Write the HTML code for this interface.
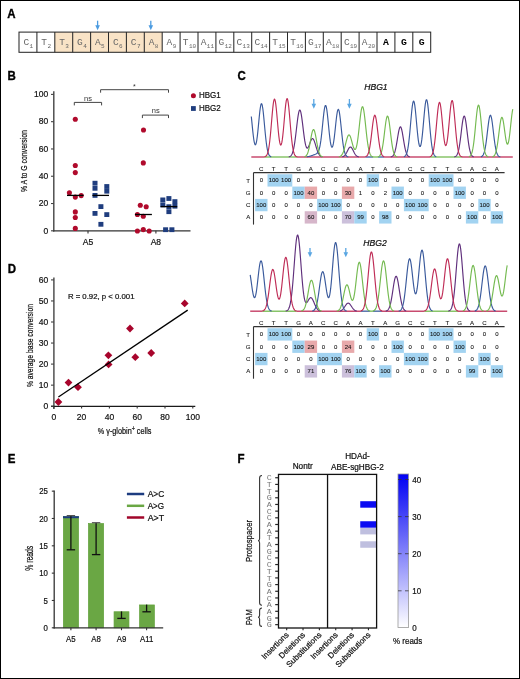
<!DOCTYPE html>
<html><head><meta charset="utf-8"><style>
html,body{margin:0;padding:0;background:#fff;overflow:hidden;}
svg{display:block;will-change:transform;}
text[fill="#111"]{stroke:#111;stroke-width:0.22px;}
text[fill="#121212"]{stroke:#121212;stroke-width:0.08px;}
</style></head><body>
<svg width="520" height="679" viewBox="0 0 520 679">
<rect x="0" y="0" width="520" height="679" fill="#fff"/>
<rect x="0.5" y="0.5" width="519" height="678" fill="none" stroke="#000" stroke-width="1" />
<text transform="translate(7.2,17.7) scale(0.9,1)" font-size="12.8" text-anchor="start" fill="#000" font-weight="bold" font-family='"Liberation Sans", sans-serif' stroke="#000" stroke-width="0.35">A</text>
<text transform="translate(7.6,80.2) scale(0.9,1)" font-size="12.8" text-anchor="start" fill="#000" font-weight="bold" font-family='"Liberation Sans", sans-serif' stroke="#000" stroke-width="0.35">B</text>
<text transform="translate(237.5,80) scale(0.9,1)" font-size="12.8" text-anchor="start" fill="#000" font-weight="bold" font-family='"Liberation Sans", sans-serif' stroke="#000" stroke-width="0.35">C</text>
<text transform="translate(7.8,273) scale(0.9,1)" font-size="12.8" text-anchor="start" fill="#000" font-weight="bold" font-family='"Liberation Sans", sans-serif' stroke="#000" stroke-width="0.35">D</text>
<text transform="translate(7.8,463.2) scale(0.9,1)" font-size="12.8" text-anchor="start" fill="#000" font-weight="bold" font-family='"Liberation Sans", sans-serif' stroke="#000" stroke-width="0.35">E</text>
<text transform="translate(237.6,462.9) scale(0.9,1)" font-size="12.8" text-anchor="start" fill="#000" font-weight="bold" font-family='"Liberation Sans", sans-serif' stroke="#000" stroke-width="0.35">F</text>
<rect x="19" y="32.1" width="17.9" height="20.2" fill="#ffffff" stroke="none" stroke-width="1" />
<rect x="36.9" y="32.1" width="17.9" height="20.2" fill="#ffffff" stroke="none" stroke-width="1" />
<rect x="54.8" y="32.1" width="17.9" height="20.2" fill="#f9e3c6" stroke="none" stroke-width="1" />
<rect x="72.7" y="32.1" width="17.9" height="20.2" fill="#f9e3c6" stroke="none" stroke-width="1" />
<rect x="90.6" y="32.1" width="17.9" height="20.2" fill="#f9e3c6" stroke="none" stroke-width="1" />
<rect x="108.5" y="32.1" width="17.9" height="20.2" fill="#f9e3c6" stroke="none" stroke-width="1" />
<rect x="126.4" y="32.1" width="17.9" height="20.2" fill="#f9e3c6" stroke="none" stroke-width="1" />
<rect x="144.3" y="32.1" width="17.9" height="20.2" fill="#f9e3c6" stroke="none" stroke-width="1" />
<rect x="162.2" y="32.1" width="17.9" height="20.2" fill="#ffffff" stroke="none" stroke-width="1" />
<rect x="180.1" y="32.1" width="17.9" height="20.2" fill="#ffffff" stroke="none" stroke-width="1" />
<rect x="198" y="32.1" width="17.9" height="20.2" fill="#ffffff" stroke="none" stroke-width="1" />
<rect x="215.9" y="32.1" width="17.9" height="20.2" fill="#ffffff" stroke="none" stroke-width="1" />
<rect x="233.8" y="32.1" width="17.9" height="20.2" fill="#ffffff" stroke="none" stroke-width="1" />
<rect x="251.7" y="32.1" width="17.9" height="20.2" fill="#ffffff" stroke="none" stroke-width="1" />
<rect x="269.6" y="32.1" width="17.9" height="20.2" fill="#ffffff" stroke="none" stroke-width="1" />
<rect x="287.5" y="32.1" width="17.9" height="20.2" fill="#ffffff" stroke="none" stroke-width="1" />
<rect x="305.4" y="32.1" width="17.9" height="20.2" fill="#ffffff" stroke="none" stroke-width="1" />
<rect x="323.3" y="32.1" width="17.9" height="20.2" fill="#ffffff" stroke="none" stroke-width="1" />
<rect x="341.2" y="32.1" width="17.9" height="20.2" fill="#ffffff" stroke="none" stroke-width="1" />
<rect x="359.1" y="32.1" width="17.9" height="20.2" fill="#ffffff" stroke="none" stroke-width="1" />
<rect x="377" y="32.1" width="17.9" height="20.2" fill="#ffffff" stroke="none" stroke-width="1" />
<rect x="394.9" y="32.1" width="17.9" height="20.2" fill="#ffffff" stroke="none" stroke-width="1" />
<rect x="412.8" y="32.1" width="17.9" height="20.2" fill="#ffffff" stroke="none" stroke-width="1" />
<text x="23.4" y="44.9" font-size="9.5" text-anchor="start" fill="#666" font-weight="normal" font-style="normal" font-family='"Liberation Mono", monospace' >C</text>
<text x="29.5" y="47.7" font-size="6.0" text-anchor="start" fill="#666" font-weight="normal" font-style="normal" font-family='"Liberation Mono", monospace' >1</text>
<text x="41.3" y="44.9" font-size="9.5" text-anchor="start" fill="#666" font-weight="normal" font-style="normal" font-family='"Liberation Mono", monospace' >T</text>
<text x="47.4" y="47.7" font-size="6.0" text-anchor="start" fill="#666" font-weight="normal" font-style="normal" font-family='"Liberation Mono", monospace' >2</text>
<text x="59.2" y="44.9" font-size="9.5" text-anchor="start" fill="#666" font-weight="normal" font-style="normal" font-family='"Liberation Mono", monospace' >T</text>
<text x="65.3" y="47.7" font-size="6.0" text-anchor="start" fill="#666" font-weight="normal" font-style="normal" font-family='"Liberation Mono", monospace' >3</text>
<text x="77.1" y="44.9" font-size="9.5" text-anchor="start" fill="#666" font-weight="normal" font-style="normal" font-family='"Liberation Mono", monospace' >G</text>
<text x="83.2" y="47.7" font-size="6.0" text-anchor="start" fill="#666" font-weight="normal" font-style="normal" font-family='"Liberation Mono", monospace' >4</text>
<text x="95" y="44.9" font-size="9.5" text-anchor="start" fill="#666" font-weight="normal" font-style="normal" font-family='"Liberation Mono", monospace' >A</text>
<text x="101.1" y="47.7" font-size="6.0" text-anchor="start" fill="#666" font-weight="normal" font-style="normal" font-family='"Liberation Mono", monospace' >5</text>
<text x="112.9" y="44.9" font-size="9.5" text-anchor="start" fill="#666" font-weight="normal" font-style="normal" font-family='"Liberation Mono", monospace' >C</text>
<text x="119" y="47.7" font-size="6.0" text-anchor="start" fill="#666" font-weight="normal" font-style="normal" font-family='"Liberation Mono", monospace' >6</text>
<text x="130.8" y="44.9" font-size="9.5" text-anchor="start" fill="#666" font-weight="normal" font-style="normal" font-family='"Liberation Mono", monospace' >C</text>
<text x="136.9" y="47.7" font-size="6.0" text-anchor="start" fill="#666" font-weight="normal" font-style="normal" font-family='"Liberation Mono", monospace' >7</text>
<text x="148.7" y="44.9" font-size="9.5" text-anchor="start" fill="#666" font-weight="normal" font-style="normal" font-family='"Liberation Mono", monospace' >A</text>
<text x="154.8" y="47.7" font-size="6.0" text-anchor="start" fill="#666" font-weight="normal" font-style="normal" font-family='"Liberation Mono", monospace' >8</text>
<text x="166.6" y="44.9" font-size="9.5" text-anchor="start" fill="#666" font-weight="normal" font-style="normal" font-family='"Liberation Mono", monospace' >A</text>
<text x="172.7" y="47.7" font-size="6.0" text-anchor="start" fill="#666" font-weight="normal" font-style="normal" font-family='"Liberation Mono", monospace' >9</text>
<text x="182.8" y="44.9" font-size="9.5" text-anchor="start" fill="#666" font-weight="normal" font-style="normal" font-family='"Liberation Mono", monospace' >T</text>
<text x="188.9" y="47.7" font-size="6.0" text-anchor="start" fill="#666" font-weight="normal" font-style="normal" font-family='"Liberation Mono", monospace' >10</text>
<text x="200.7" y="44.9" font-size="9.5" text-anchor="start" fill="#666" font-weight="normal" font-style="normal" font-family='"Liberation Mono", monospace' >A</text>
<text x="206.8" y="47.7" font-size="6.0" text-anchor="start" fill="#666" font-weight="normal" font-style="normal" font-family='"Liberation Mono", monospace' >11</text>
<text x="218.6" y="44.9" font-size="9.5" text-anchor="start" fill="#666" font-weight="normal" font-style="normal" font-family='"Liberation Mono", monospace' >G</text>
<text x="224.7" y="47.7" font-size="6.0" text-anchor="start" fill="#666" font-weight="normal" font-style="normal" font-family='"Liberation Mono", monospace' >12</text>
<text x="236.5" y="44.9" font-size="9.5" text-anchor="start" fill="#666" font-weight="normal" font-style="normal" font-family='"Liberation Mono", monospace' >C</text>
<text x="242.6" y="47.7" font-size="6.0" text-anchor="start" fill="#666" font-weight="normal" font-style="normal" font-family='"Liberation Mono", monospace' >13</text>
<text x="254.4" y="44.9" font-size="9.5" text-anchor="start" fill="#666" font-weight="normal" font-style="normal" font-family='"Liberation Mono", monospace' >C</text>
<text x="260.5" y="47.7" font-size="6.0" text-anchor="start" fill="#666" font-weight="normal" font-style="normal" font-family='"Liberation Mono", monospace' >14</text>
<text x="272.3" y="44.9" font-size="9.5" text-anchor="start" fill="#666" font-weight="normal" font-style="normal" font-family='"Liberation Mono", monospace' >T</text>
<text x="278.4" y="47.7" font-size="6.0" text-anchor="start" fill="#666" font-weight="normal" font-style="normal" font-family='"Liberation Mono", monospace' >15</text>
<text x="290.2" y="44.9" font-size="9.5" text-anchor="start" fill="#666" font-weight="normal" font-style="normal" font-family='"Liberation Mono", monospace' >T</text>
<text x="296.3" y="47.7" font-size="6.0" text-anchor="start" fill="#666" font-weight="normal" font-style="normal" font-family='"Liberation Mono", monospace' >16</text>
<text x="308.1" y="44.9" font-size="9.5" text-anchor="start" fill="#666" font-weight="normal" font-style="normal" font-family='"Liberation Mono", monospace' >G</text>
<text x="314.2" y="47.7" font-size="6.0" text-anchor="start" fill="#666" font-weight="normal" font-style="normal" font-family='"Liberation Mono", monospace' >17</text>
<text x="326" y="44.9" font-size="9.5" text-anchor="start" fill="#666" font-weight="normal" font-style="normal" font-family='"Liberation Mono", monospace' >A</text>
<text x="332.1" y="47.7" font-size="6.0" text-anchor="start" fill="#666" font-weight="normal" font-style="normal" font-family='"Liberation Mono", monospace' >18</text>
<text x="343.9" y="44.9" font-size="9.5" text-anchor="start" fill="#666" font-weight="normal" font-style="normal" font-family='"Liberation Mono", monospace' >C</text>
<text x="350" y="47.7" font-size="6.0" text-anchor="start" fill="#666" font-weight="normal" font-style="normal" font-family='"Liberation Mono", monospace' >19</text>
<text x="361.8" y="44.9" font-size="9.5" text-anchor="start" fill="#666" font-weight="normal" font-style="normal" font-family='"Liberation Mono", monospace' >A</text>
<text x="367.9" y="47.7" font-size="6.0" text-anchor="start" fill="#666" font-weight="normal" font-style="normal" font-family='"Liberation Mono", monospace' >20</text>
<text x="385.95" y="45" font-size="9.8" text-anchor="middle" fill="#000" font-weight="bold" font-style="normal" font-family='"Liberation Mono", monospace' >A</text>
<text x="403.85" y="45" font-size="9.8" text-anchor="middle" fill="#000" font-weight="bold" font-style="normal" font-family='"Liberation Mono", monospace' >G</text>
<text x="421.75" y="45" font-size="9.8" text-anchor="middle" fill="#000" font-weight="bold" font-style="normal" font-family='"Liberation Mono", monospace' >G</text>
<rect x="19" y="32.1" width="411.7" height="20.2" fill="none" stroke="#2a2a2a" stroke-width="1.05" />
<line x1="36.9" y1="32.1" x2="36.9" y2="52.3" stroke="#2a2a2a" stroke-width="1.05" />
<line x1="54.8" y1="32.1" x2="54.8" y2="52.3" stroke="#2a2a2a" stroke-width="1.05" />
<line x1="72.7" y1="32.1" x2="72.7" y2="52.3" stroke="#2a2a2a" stroke-width="1.05" />
<line x1="90.6" y1="32.1" x2="90.6" y2="52.3" stroke="#2a2a2a" stroke-width="1.05" />
<line x1="108.5" y1="32.1" x2="108.5" y2="52.3" stroke="#2a2a2a" stroke-width="1.05" />
<line x1="126.4" y1="32.1" x2="126.4" y2="52.3" stroke="#2a2a2a" stroke-width="1.05" />
<line x1="144.3" y1="32.1" x2="144.3" y2="52.3" stroke="#2a2a2a" stroke-width="1.05" />
<line x1="162.2" y1="32.1" x2="162.2" y2="52.3" stroke="#2a2a2a" stroke-width="1.05" />
<line x1="180.1" y1="32.1" x2="180.1" y2="52.3" stroke="#2a2a2a" stroke-width="1.05" />
<line x1="198" y1="32.1" x2="198" y2="52.3" stroke="#2a2a2a" stroke-width="1.05" />
<line x1="215.9" y1="32.1" x2="215.9" y2="52.3" stroke="#2a2a2a" stroke-width="1.05" />
<line x1="233.8" y1="32.1" x2="233.8" y2="52.3" stroke="#2a2a2a" stroke-width="1.05" />
<line x1="251.7" y1="32.1" x2="251.7" y2="52.3" stroke="#2a2a2a" stroke-width="1.05" />
<line x1="269.6" y1="32.1" x2="269.6" y2="52.3" stroke="#2a2a2a" stroke-width="1.05" />
<line x1="287.5" y1="32.1" x2="287.5" y2="52.3" stroke="#2a2a2a" stroke-width="1.05" />
<line x1="305.4" y1="32.1" x2="305.4" y2="52.3" stroke="#2a2a2a" stroke-width="1.05" />
<line x1="323.3" y1="32.1" x2="323.3" y2="52.3" stroke="#2a2a2a" stroke-width="1.05" />
<line x1="341.2" y1="32.1" x2="341.2" y2="52.3" stroke="#2a2a2a" stroke-width="1.05" />
<line x1="359.1" y1="32.1" x2="359.1" y2="52.3" stroke="#2a2a2a" stroke-width="1.05" />
<line x1="377" y1="32.1" x2="377" y2="52.3" stroke="#2a2a2a" stroke-width="1.05" />
<line x1="394.9" y1="32.1" x2="394.9" y2="52.3" stroke="#2a2a2a" stroke-width="1.05" />
<line x1="412.8" y1="32.1" x2="412.8" y2="52.3" stroke="#2a2a2a" stroke-width="1.05" />
<line x1="97.6" y1="20.7" x2="97.6" y2="27.7" stroke="#4b9be0" stroke-width="1.3" />
<path d="M95.3,25.2 L99.9,25.2 L97.6,30.2 Z" fill="#4b9be0"/>
<line x1="150.8" y1="20.7" x2="150.8" y2="27.7" stroke="#4b9be0" stroke-width="1.3" />
<path d="M148.5,25.2 L153.1,25.2 L150.8,30.2 Z" fill="#4b9be0"/>
<line x1="53.8" y1="91.3" x2="53.8" y2="231.4" stroke="#444" stroke-width="1.4" />
<line x1="52.9" y1="230.8" x2="190.5" y2="230.8" stroke="#333" stroke-width="1.3" />
<line x1="51" y1="230.8" x2="53.8" y2="230.8" stroke="#444" stroke-width="1.1" />
<text transform="translate(48.2,233.5) scale(0.88,1)" font-size="9.7" text-anchor="end" fill="#111" font-weight="normal" font-family='"Liberation Sans", sans-serif' >0</text>
<line x1="51" y1="203.52" x2="53.8" y2="203.52" stroke="#444" stroke-width="1.1" />
<text transform="translate(48.2,206.22) scale(0.88,1)" font-size="9.7" text-anchor="end" fill="#111" font-weight="normal" font-family='"Liberation Sans", sans-serif' >20</text>
<line x1="51" y1="176.24" x2="53.8" y2="176.24" stroke="#444" stroke-width="1.1" />
<text transform="translate(48.2,178.94) scale(0.88,1)" font-size="9.7" text-anchor="end" fill="#111" font-weight="normal" font-family='"Liberation Sans", sans-serif' >40</text>
<line x1="51" y1="148.96" x2="53.8" y2="148.96" stroke="#444" stroke-width="1.1" />
<text transform="translate(48.2,151.66) scale(0.88,1)" font-size="9.7" text-anchor="end" fill="#111" font-weight="normal" font-family='"Liberation Sans", sans-serif' >60</text>
<line x1="51" y1="121.68" x2="53.8" y2="121.68" stroke="#444" stroke-width="1.1" />
<text transform="translate(48.2,124.38) scale(0.88,1)" font-size="9.7" text-anchor="end" fill="#111" font-weight="normal" font-family='"Liberation Sans", sans-serif' >80</text>
<line x1="51" y1="94.4" x2="53.8" y2="94.4" stroke="#444" stroke-width="1.1" />
<text transform="translate(48.2,97.1) scale(0.88,1)" font-size="9.7" text-anchor="end" fill="#111" font-weight="normal" font-family='"Liberation Sans", sans-serif' >100</text>
<line x1="88" y1="230.8" x2="88" y2="233.4" stroke="#333" stroke-width="1.1" />
<line x1="155.9" y1="230.8" x2="155.9" y2="233.4" stroke="#333" stroke-width="1.1" />
<text transform="translate(88,244.8) scale(0.88,1)" font-size="9.7" text-anchor="middle" fill="#111" font-weight="normal" font-family='"Liberation Sans", sans-serif' >A5</text>
<text transform="translate(155.9,244.8) scale(0.88,1)" font-size="9.7" text-anchor="middle" fill="#111" font-weight="normal" font-family='"Liberation Sans", sans-serif' >A8</text>
<text transform="translate(26.9,161.1) rotate(-90)" font-size="9.8" text-anchor="middle" fill="#111" font-family='"Liberation Sans", sans-serif' textLength="62" lengthAdjust="spacingAndGlyphs">% A to G conversion</text>
<path d="M74.3,105.4 L74.3,102.4 L101.6,102.4 L101.6,105.4" fill="none" stroke="#444" stroke-width="1"/>
<text x="88" y="100.5" font-size="7.5" text-anchor="middle" fill="#333" font-weight="normal" font-style="normal" font-family='"Liberation Sans", sans-serif' >ns</text>
<path d="M100.6,92.7 L100.6,89.7 L168.5,89.7 L168.5,92.7" fill="none" stroke="#444" stroke-width="1"/>
<text x="134.4" y="89.2" font-size="7" text-anchor="middle" fill="#333" font-weight="normal" font-style="normal" font-family='"Liberation Sans", sans-serif' >*</text>
<path d="M142.4,118.1 L142.4,115.1 L168.5,115.1 L168.5,118.1" fill="none" stroke="#444" stroke-width="1"/>
<text x="155.8" y="113" font-size="7.5" text-anchor="middle" fill="#333" font-weight="normal" font-style="normal" font-family='"Liberation Sans", sans-serif' >ns</text>
<circle cx="75.3" cy="119.3" r="2.55" fill="#b00a2c"/>
<circle cx="75.3" cy="165.5" r="2.55" fill="#b00a2c"/>
<circle cx="75.3" cy="172.6" r="2.55" fill="#b00a2c"/>
<circle cx="69.4" cy="192.8" r="2.55" fill="#b00a2c"/>
<circle cx="75.3" cy="197.1" r="2.55" fill="#b00a2c"/>
<circle cx="81.2" cy="195.6" r="2.55" fill="#b00a2c"/>
<circle cx="75.3" cy="211.9" r="2.55" fill="#b00a2c"/>
<circle cx="75.3" cy="217.5" r="2.55" fill="#b00a2c"/>
<circle cx="75.3" cy="228.4" r="2.55" fill="#b00a2c"/>
<circle cx="143.5" cy="130" r="2.55" fill="#b00a2c"/>
<circle cx="143.3" cy="162.9" r="2.55" fill="#b00a2c"/>
<circle cx="140.3" cy="205.2" r="2.55" fill="#b00a2c"/>
<circle cx="146.2" cy="206.8" r="2.55" fill="#b00a2c"/>
<circle cx="137.4" cy="214.5" r="2.55" fill="#b00a2c"/>
<circle cx="143.3" cy="216.2" r="2.55" fill="#b00a2c"/>
<circle cx="137.4" cy="231" r="2.55" fill="#b00a2c"/>
<circle cx="143.3" cy="229.6" r="2.55" fill="#b00a2c"/>
<circle cx="149.2" cy="231" r="2.55" fill="#b00a2c"/>
<rect x="92.5" y="180.8" width="5" height="4.8" fill="#1f3d7e" stroke="none" stroke-width="1" />
<rect x="92.5" y="185.9" width="5" height="4.8" fill="#1f3d7e" stroke="none" stroke-width="1" />
<rect x="92.5" y="193" width="5" height="4.8" fill="#1f3d7e" stroke="none" stroke-width="1" />
<rect x="104.3" y="184.1" width="5" height="4.8" fill="#1f3d7e" stroke="none" stroke-width="1" />
<rect x="104.3" y="188.8" width="5" height="4.8" fill="#1f3d7e" stroke="none" stroke-width="1" />
<rect x="98.4" y="204.2" width="5" height="4.8" fill="#1f3d7e" stroke="none" stroke-width="1" />
<rect x="92.5" y="211" width="5" height="4.8" fill="#1f3d7e" stroke="none" stroke-width="1" />
<rect x="104.3" y="212.2" width="5" height="4.8" fill="#1f3d7e" stroke="none" stroke-width="1" />
<rect x="98.4" y="221.9" width="5" height="4.8" fill="#1f3d7e" stroke="none" stroke-width="1" />
<rect x="160.3" y="197.5" width="5" height="4.8" fill="#1f3d7e" stroke="none" stroke-width="1" />
<rect x="160.3" y="202.5" width="5" height="4.8" fill="#1f3d7e" stroke="none" stroke-width="1" />
<rect x="166.4" y="196.1" width="5" height="4.8" fill="#1f3d7e" stroke="none" stroke-width="1" />
<rect x="166.4" y="204.3" width="5" height="4.8" fill="#1f3d7e" stroke="none" stroke-width="1" />
<rect x="166.4" y="209.3" width="5" height="4.8" fill="#1f3d7e" stroke="none" stroke-width="1" />
<rect x="172.4" y="199.2" width="5" height="4.8" fill="#1f3d7e" stroke="none" stroke-width="1" />
<rect x="172.4" y="203.8" width="5" height="4.8" fill="#1f3d7e" stroke="none" stroke-width="1" />
<rect x="163.1" y="227.3" width="5" height="4.8" fill="#1f3d7e" stroke="none" stroke-width="1" />
<rect x="169.4" y="227.3" width="5" height="4.8" fill="#1f3d7e" stroke="none" stroke-width="1" />
<line x1="67" y1="195.4" x2="83.6" y2="195.4" stroke="#000" stroke-width="1.3" />
<line x1="92.4" y1="195.4" x2="109" y2="195.4" stroke="#000" stroke-width="1.3" />
<line x1="135" y1="214.5" x2="151.9" y2="214.5" stroke="#000" stroke-width="1.3" />
<line x1="160.6" y1="206.6" x2="177.2" y2="206.6" stroke="#000" stroke-width="1.3" />
<circle cx="193.4" cy="95.7" r="2.5" fill="#b00a2c"/>
<rect x="191" y="106.1" width="4.8" height="4.8" fill="#1f3d7e" stroke="none" stroke-width="1" />
<text transform="translate(199,98.2) scale(0.92,1)" font-size="8.7" text-anchor="start" fill="#111" font-weight="normal" font-family='"Liberation Sans", sans-serif' >HBG1</text>
<text transform="translate(199,111) scale(0.92,1)" font-size="8.7" text-anchor="start" fill="#111" font-weight="normal" font-family='"Liberation Sans", sans-serif' >HBG2</text>
<line x1="251.3" y1="157" x2="264.55" y2="157" stroke="#bf2c56" stroke-width="1.5" opacity="0.85"/>
<line x1="264.55" y1="157" x2="297.05" y2="157" stroke="#74ba50" stroke-width="1.5" opacity="0.85"/>
<line x1="297.05" y1="157" x2="365.55" y2="157" stroke="#bf2c56" stroke-width="1.5" opacity="0.85"/>
<line x1="365.55" y1="157" x2="373.05" y2="157" stroke="#3a5a9c" stroke-width="1.5" opacity="0.85"/>
<line x1="373.05" y1="157" x2="378.05" y2="157" stroke="#74ba50" stroke-width="1.5" opacity="0.85"/>
<line x1="378.05" y1="157" x2="384.05" y2="157" stroke="#3a5a9c" stroke-width="1.5" opacity="0.85"/>
<line x1="384.05" y1="157" x2="430.05" y2="157" stroke="#bf2c56" stroke-width="1.5" opacity="0.85"/>
<line x1="430.05" y1="157" x2="462.05" y2="157" stroke="#74ba50" stroke-width="1.5" opacity="0.85"/>
<line x1="462.05" y1="157" x2="512.8" y2="157" stroke="#bf2c56" stroke-width="1.5" opacity="0.85"/>
<path d="M288.8,156.82 L289.3,156.7 L289.8,156.52 L290.3,156.25 L290.8,155.86 L291.3,155.3 L291.8,154.51 L292.3,153.45 L292.8,152.05 L293.3,150.24 L293.8,148 L294.3,145.28 L294.8,142.09 L295.3,138.45 L295.8,134.45 L296.3,130.22 L296.8,125.91 L297.3,121.72 L297.8,117.88 L298.3,114.61 L298.8,112.11 L299.3,110.53 L299.8,109.99 L300.3,110.52 L300.8,112.07 L301.3,114.55 L301.8,117.79 L302.3,121.57 L302.8,125.66 L303.3,129.84 L303.8,133.89 L304.3,137.61 L304.8,140.88 L305.3,143.58 L305.8,145.66 L306.3,147.09 L306.8,147.91 L307.3,148.13 L307.8,147.84 L308.3,147.11 L308.8,146.05 L309.3,144.76 L309.8,143.36 L310.3,141.97 L310.8,140.7 L311.3,139.67 L311.8,138.95 L312.3,138.6 L312.8,138.66 L313.3,139.12 L313.8,139.97 L314.3,141.14 L314.8,142.57 L315.3,144.16 L315.8,145.84 L316.3,147.52 L316.8,149.13 L317.3,150.61 L317.8,151.93 L318.3,153.07 L318.8,154.03 L319.3,154.8 L319.8,155.41 L320.3,155.87 L320.8,156.22 L321.3,156.47 L321.8,156.65 L322.3,156.78" fill="none" stroke="#5f2f7c" stroke-width="1.15" stroke-linejoin="round"/>
<path d="M342.3,156.77 L342.8,156.64 L343.3,156.45 L343.8,156.18 L344.3,155.82 L344.8,155.35 L345.3,154.76 L345.8,154.04 L346.3,153.19 L346.8,152.25 L347.3,151.24 L347.8,150.22 L348.3,149.24 L348.8,148.37 L349.3,147.67 L349.8,147.2 L350.3,147.01 L350.8,147.09 L351.3,147.45 L351.8,148.07 L352.3,148.87 L352.8,149.82 L353.3,150.83 L353.8,151.85 L354.3,152.83 L354.8,153.71 L355.3,154.48 L355.8,155.13 L356.3,155.65 L356.8,156.05 L357.3,156.35 L357.8,156.57 L358.3,156.72 L358.8,156.83" fill="none" stroke="#5f2f7c" stroke-width="1.15" stroke-linejoin="round"/>
<path d="M390.8,156.85 L391.3,156.74 L391.8,156.57 L392.3,156.3 L392.8,155.91 L393.3,155.33 L393.8,154.53 L394.3,153.44 L394.8,152.02 L395.3,150.22 L395.8,148.05 L396.3,145.5 L396.8,142.66 L397.3,139.61 L397.8,136.52 L398.3,133.56 L398.8,130.93 L399.3,128.83 L399.8,127.42 L400.3,126.82 L400.8,127.08 L401.3,128.17 L401.8,130.02 L402.3,132.46 L402.8,135.31 L403.3,138.37 L403.8,141.46 L404.3,144.4 L404.8,147.07 L405.3,149.4 L405.8,151.35 L406.3,152.91 L406.8,154.13 L407.3,155.04 L407.8,155.7 L408.3,156.16 L408.8,156.48 L409.3,156.68 L409.8,156.81" fill="none" stroke="#5f2f7c" stroke-width="1.15" stroke-linejoin="round"/>
<path d="M454.3,156.85 L454.8,156.74 L455.3,156.57 L455.8,156.29 L456.3,155.86 L456.8,155.24 L457.3,154.34 L457.8,153.1 L458.3,151.45 L458.8,149.32 L459.3,146.68 L459.8,143.52 L460.3,139.89 L460.8,135.9 L461.3,131.71 L461.8,127.55 L462.3,123.68 L462.8,120.37 L463.3,117.86 L463.8,116.38 L464.3,116.02 L464.8,116.84 L465.3,118.75 L465.8,121.61 L466.3,125.18 L466.8,129.2 L467.3,133.4 L467.8,137.53 L468.3,141.39 L468.8,144.84 L469.3,147.8 L469.8,150.23 L470.3,152.17 L470.8,153.64 L471.3,154.74 L471.8,155.52 L472.3,156.05 L472.8,156.41 L473.3,156.65 L473.8,156.79" fill="none" stroke="#5f2f7c" stroke-width="1.15" stroke-linejoin="round"/>
<path d="M251.3,116.47 L251.3,116.47 L251.8,121.35 L252.3,126.42 L252.8,131.34 L253.3,135.79 L253.8,139.53 L254.3,142.36 L254.8,144.15 L255.3,144.83 L255.8,144.35 L256.3,142.73 L256.8,140.03 L257.3,136.37 L257.8,131.9 L258.3,126.88 L258.8,121.6 L259.3,116.41 L259.8,111.68 L260.3,107.79 L260.8,105.06 L261.3,103.71 L261.8,103.87 L262.3,105.52 L262.8,108.54 L263.3,112.67 L263.8,117.6 L264.3,122.97 L264.8,128.44 L265.3,133.71 L265.8,138.54 L266.3,142.79 L266.8,146.37 L267.3,149.27 L267.8,151.54 L268.3,153.25 L268.8,154.5 L269.3,155.38 L269.8,155.98 L270.3,156.38 L270.8,156.63 L271.3,156.79" fill="none" stroke="#3a5a9c" stroke-width="1.15" stroke-linejoin="round"/>
<path d="M306.8,156.76 L307.3,156.7 L307.8,156.63 L308.3,156.54 L308.8,156.45 L309.3,156.34 L309.8,156.22 L310.3,156.08 L310.8,155.94 L311.3,155.78 L311.8,155.61 L312.3,155.43 L312.8,155.25 L313.3,155.06 L313.8,154.87 L314.3,154.69 L314.8,154.49 L315.3,154.29 L315.8,154.07 L316.3,153.82 L316.8,153.49 L317.3,153.06 L317.8,152.46 L318.3,151.63 L318.8,150.48 L319.3,148.92 L319.8,146.85 L320.3,144.21 L320.8,140.94 L321.3,137.06 L321.8,132.64 L322.3,127.81 L322.8,122.79 L323.3,117.88 L323.8,113.38 L324.3,109.63 L324.8,106.94 L325.3,105.53 L325.8,105.52 L326.3,106.94 L326.8,109.66 L327.3,113.48 L327.8,118.08 L328.3,123.14 L328.8,128.29 L329.3,133.22 L329.8,137.66 L330.3,141.4 L330.8,144.28 L331.3,146.22 L331.8,147.15 L332.3,147.08 L332.8,145.99 L333.3,143.95 L333.8,141.01 L334.3,137.31 L334.8,133 L335.3,128.32 L335.8,123.56 L336.3,119.02 L336.8,115.04 L337.3,111.94 L337.8,109.97 L338.3,109.29 L338.8,109.98 L339.3,111.96 L339.8,115.08 L340.3,119.09 L340.8,123.69 L341.3,128.56 L341.8,133.4 L342.3,137.98 L342.8,142.1 L343.3,145.66 L343.8,148.61 L344.3,150.97 L344.8,152.79 L345.3,154.14 L345.8,155.12 L346.3,155.79 L346.8,156.25 L347.3,156.55 L347.8,156.73 L348.3,156.85" fill="none" stroke="#3a5a9c" stroke-width="1.15" stroke-linejoin="round"/>
<path d="M403.8,156.78 L404.3,156.61 L404.8,156.35 L405.3,155.93 L405.8,155.3 L406.3,154.38 L406.8,153.07 L407.3,151.27 L407.8,148.89 L408.3,145.85 L408.8,142.1 L409.3,137.64 L409.8,132.57 L410.3,127.05 L410.8,121.31 L411.3,115.68 L411.8,110.51 L412.3,106.18 L412.8,103.02 L413.3,101.29 L413.8,101.12 L414.3,102.54 L414.8,105.42 L415.3,109.52 L415.8,114.51 L416.3,120.02 L416.8,125.65 L417.3,131.05 L417.8,135.93 L418.3,140.06 L418.8,143.25 L419.3,145.42 L419.8,146.49 L420.3,146.45 L420.8,145.28 L421.3,143 L421.8,139.69 L422.3,135.44 L422.8,130.43 L423.3,124.88 L423.8,119.1 L424.3,113.46 L424.8,108.34 L425.3,104.14 L425.8,101.18 L426.3,99.73 L426.8,99.89 L427.3,101.67 L427.8,104.91 L428.3,109.35 L428.8,114.64 L429.3,120.42 L429.8,126.3 L430.3,131.96 L430.8,137.16 L431.3,141.72 L431.8,145.57 L432.3,148.69 L432.8,151.13 L433.3,152.97 L433.8,154.31 L434.3,155.26 L434.8,155.9 L435.3,156.33 L435.8,156.6 L436.3,156.77" fill="none" stroke="#3a5a9c" stroke-width="1.15" stroke-linejoin="round"/>
<path d="M480.8,156.79 L481.3,156.64 L481.8,156.4 L482.3,156.04 L482.8,155.49 L483.3,154.69 L483.8,153.58 L484.3,152.07 L484.8,150.1 L485.3,147.62 L485.8,144.61 L486.3,141.09 L486.8,137.15 L487.3,132.94 L487.8,128.65 L488.3,124.56 L488.8,120.92 L489.3,118.01 L489.8,116.06 L490.3,115.22 L490.8,115.58 L491.3,117.1 L491.8,119.65 L492.3,123.03 L492.8,126.98 L493.3,131.22 L493.8,135.49 L494.3,139.56 L494.8,143.26 L495.3,146.48 L495.8,149.17 L496.3,151.34 L496.8,153.03 L497.3,154.29 L497.8,155.2 L498.3,155.84 L498.8,156.27 L499.3,156.56 L499.8,156.74 L500.3,156.85" fill="none" stroke="#3a5a9c" stroke-width="1.15" stroke-linejoin="round"/>
<path d="M304.3,156.79 L304.8,156.64 L305.3,156.42 L305.8,156.09 L306.3,155.6 L306.8,154.91 L307.3,153.98 L307.8,152.75 L308.3,151.18 L308.8,149.27 L309.3,147.02 L309.8,144.48 L310.3,141.73 L310.8,138.91 L311.3,136.18 L311.8,133.71 L312.3,131.68 L312.8,130.26 L313.3,129.56 L313.8,129.64 L314.3,130.49 L314.8,132.04 L315.3,134.17 L315.8,136.71 L316.3,139.47 L316.8,142.29 L317.3,145 L317.8,147.49 L318.3,149.68 L318.8,151.52 L319.3,153.02 L319.8,154.19 L320.3,155.07 L320.8,155.71 L321.3,156.17 L321.8,156.47 L322.3,156.68 L322.8,156.81" fill="none" stroke="#74ba50" stroke-width="1.15" stroke-linejoin="round"/>
<path d="M338.8,156.81 L339.3,156.71 L339.8,156.55 L340.3,156.32 L340.8,155.99 L341.3,155.55 L341.8,154.95 L342.3,154.19 L342.8,153.22 L343.3,152.03 L343.8,150.61 L344.3,148.98 L344.8,147.17 L345.3,145.21 L345.8,143.19 L346.3,141.19 L346.8,139.3 L347.3,137.65 L347.8,136.31 L348.3,135.39 L348.8,134.94 L349.3,134.98 L349.8,135.52 L350.3,136.51 L350.8,137.89 L351.3,139.56 L351.8,141.39 L352.3,143.28 L352.8,145.1 L353.3,146.74 L353.8,148.08 L354.3,149.02 L354.8,149.5 L355.3,149.42 L355.8,148.73 L356.3,147.37 L356.8,145.33 L357.3,142.61 L357.8,139.23 L358.3,135.28 L358.8,130.9 L359.3,126.26 L359.8,121.59 L360.3,117.15 L360.8,113.2 L361.3,110 L361.8,107.78 L362.3,106.69 L362.8,106.82 L363.3,108.15 L363.8,110.59 L364.3,113.97 L364.8,118.07 L365.3,122.63 L365.8,127.39 L366.3,132.1 L366.8,136.57 L367.3,140.64 L367.8,144.21 L368.3,147.25 L368.8,149.74 L369.3,151.73 L369.8,153.26 L370.3,154.42 L370.8,155.26 L371.3,155.85 L371.8,156.26 L372.3,156.54 L372.8,156.72 L373.3,156.83" fill="none" stroke="#74ba50" stroke-width="1.15" stroke-linejoin="round"/>
<path d="M377.8,156.82 L378.3,156.68 L378.8,156.47 L379.3,156.14 L379.8,155.64 L380.3,154.91 L380.8,153.89 L381.3,152.5 L381.8,150.66 L382.3,148.33 L382.8,145.48 L383.3,142.12 L383.8,138.33 L384.3,134.23 L384.8,130.03 L385.3,125.95 L385.8,122.27 L386.3,119.26 L386.8,117.14 L387.3,116.09 L387.8,116.21 L388.3,117.48 L388.8,119.79 L389.3,122.96 L389.8,126.75 L390.3,130.87 L390.8,135.07 L391.3,139.12 L391.8,142.83 L392.3,146.09 L392.8,148.84 L393.3,151.07 L393.8,152.81 L394.3,154.12 L394.8,155.08 L395.3,155.76 L395.8,156.22 L396.3,156.52 L396.8,156.72 L397.3,156.84" fill="none" stroke="#74ba50" stroke-width="1.15" stroke-linejoin="round"/>
<path d="M468.8,156.77 L469.3,156.6 L469.8,156.33 L470.3,155.91 L470.8,155.28 L471.3,154.35 L471.8,153.06 L472.3,151.29 L472.8,148.96 L473.3,146 L473.8,142.38 L474.3,138.13 L474.8,133.32 L475.3,128.13 L475.8,122.79 L476.3,117.62 L476.8,112.96 L477.3,109.13 L477.8,106.44 L478.3,105.12 L478.8,105.27 L479.3,106.88 L479.8,109.81 L480.3,113.83 L480.8,118.63 L481.3,123.86 L481.8,129.19 L482.3,134.32 L482.8,139.03 L483.3,143.16 L483.8,146.65 L484.3,149.47 L484.8,151.68 L485.3,153.35 L485.8,154.57 L486.3,155.42 L486.8,156.01 L487.3,156.39 L487.8,156.64 L488.3,156.79" fill="none" stroke="#74ba50" stroke-width="1.15" stroke-linejoin="round"/>
<path d="M492.3,156.8 L492.8,156.66 L493.3,156.43 L493.8,156.08 L494.3,155.56 L494.8,154.81 L495.3,153.75 L495.8,152.32 L496.3,150.45 L496.8,148.09 L497.3,145.23 L497.8,141.89 L498.3,138.15 L498.8,134.14 L499.3,130.08 L499.8,126.18 L500.3,122.73 L500.8,119.96 L501.3,118.1 L501.8,117.3 L502.3,117.63 L502.8,119.04 L503.3,121.4 L503.8,124.52 L504.3,128.11 L504.8,131.88 L505.3,135.54 L505.8,138.8 L506.3,141.45 L506.8,143.28 L507.3,144.17 L507.8,144.03 L508.3,142.84 L508.8,140.62 L509.3,137.47 L509.8,133.54 L510.3,129.05 L510.8,124.28 L511.3,119.57 L511.8,115.27 L512.3,111.72 L512.8,109.22" fill="none" stroke="#74ba50" stroke-width="1.15" stroke-linejoin="round"/>
<path d="M264.3,156.85 L264.8,156.74 L265.3,156.55 L265.8,156.25 L266.3,155.78 L266.8,155.08 L267.3,154.05 L267.8,152.6 L268.3,150.63 L268.8,148.03 L269.3,144.73 L269.8,140.7 L270.3,135.95 L270.8,130.59 L271.3,124.8 L271.8,118.85 L272.3,113.08 L272.8,107.87 L273.3,103.6 L273.8,100.61 L274.3,99.13 L274.8,99.29 L275.3,101.07 L275.8,104.33 L276.3,108.78 L276.8,114.07 L277.3,119.8 L277.8,125.57 L278.3,131.02 L278.8,135.84 L279.3,139.79 L279.8,142.71 L280.3,144.5 L280.8,145.09 L281.3,144.46 L281.8,142.64 L282.3,139.67 L282.8,135.67 L283.3,130.8 L283.8,125.31 L284.3,119.48 L284.8,113.7 L285.3,108.37 L285.8,103.88 L286.3,100.59 L286.8,98.79 L287.3,98.63 L287.8,100.12 L288.3,103.14 L288.8,107.45 L289.3,112.7 L289.8,118.52 L290.3,124.52 L290.8,130.36 L291.3,135.77 L291.8,140.56 L292.3,144.63 L292.8,147.95 L293.3,150.57 L293.8,152.56 L294.3,154.02 L294.8,155.06 L295.3,155.77 L295.8,156.24 L296.3,156.55 L296.8,156.74 L297.3,156.85" fill="none" stroke="#bf2c56" stroke-width="1.15" stroke-linejoin="round"/>
<path d="M365.3,156.77 L365.8,156.6 L366.3,156.34 L366.8,155.94 L367.3,155.35 L367.8,154.5 L368.3,153.31 L368.8,151.72 L369.3,149.65 L369.8,147.06 L370.3,143.94 L370.8,140.33 L371.3,136.32 L371.8,132.08 L372.3,127.81 L372.8,123.78 L373.3,120.27 L373.8,117.53 L374.3,115.8 L374.8,115.2 L375.3,115.8 L375.8,117.53 L376.3,120.27 L376.8,123.78 L377.3,127.81 L377.8,132.08 L378.3,136.32 L378.8,140.33 L379.3,143.94 L379.8,147.06 L380.3,149.65 L380.8,151.72 L381.3,153.31 L381.8,154.5 L382.3,155.35 L382.8,155.94 L383.3,156.34 L383.8,156.6 L384.3,156.77" fill="none" stroke="#bf2c56" stroke-width="1.15" stroke-linejoin="round"/>
<path d="M429.8,156.75 L430.3,156.58 L430.8,156.29 L431.3,155.85 L431.8,155.19 L432.3,154.22 L432.8,152.85 L433.3,150.99 L433.8,148.54 L434.3,145.43 L434.8,141.63 L435.3,137.15 L435.8,132.09 L436.3,126.63 L436.8,121.02 L437.3,115.58 L437.8,110.67 L438.3,106.64 L438.8,103.82 L439.3,102.42 L439.8,102.57 L440.3,104.26 L440.8,107.32 L441.3,111.52 L441.8,116.51 L442.3,121.91 L442.8,127.35 L443.3,132.48 L443.8,137.01 L444.3,140.73 L444.8,143.46 L445.3,145.11 L445.8,145.62 L446.3,144.97 L446.8,143.17 L447.3,140.28 L447.8,136.39 L448.3,131.67 L448.8,126.34 L449.3,120.71 L449.8,115.11 L450.3,109.95 L450.8,105.6 L451.3,102.43 L451.8,100.68 L452.3,100.53 L452.8,101.97 L453.3,104.89 L453.8,109.06 L454.3,114.14 L454.8,119.77 L455.3,125.57 L455.8,131.22 L456.3,136.46 L456.8,141.09 L457.3,145.03 L457.8,148.25 L458.3,150.78 L458.8,152.71 L459.3,154.12 L459.8,155.12 L460.3,155.81 L460.8,156.27 L461.3,156.56 L461.8,156.75 L462.3,156.86" fill="none" stroke="#bf2c56" stroke-width="1.15" stroke-linejoin="round"/>
<line x1="250.2" y1="311.2" x2="262.45" y2="311.2" stroke="#bf2c56" stroke-width="1.5" opacity="0.85"/>
<line x1="262.45" y1="311.2" x2="296.45" y2="311.2" stroke="#74ba50" stroke-width="1.5" opacity="0.85"/>
<line x1="296.45" y1="311.2" x2="360.95" y2="311.2" stroke="#bf2c56" stroke-width="1.5" opacity="0.85"/>
<line x1="360.95" y1="311.2" x2="369.95" y2="311.2" stroke="#3a5a9c" stroke-width="1.5" opacity="0.85"/>
<line x1="369.95" y1="311.2" x2="372.95" y2="311.2" stroke="#74ba50" stroke-width="1.5" opacity="0.85"/>
<line x1="372.95" y1="311.2" x2="381.95" y2="311.2" stroke="#3a5a9c" stroke-width="1.5" opacity="0.85"/>
<line x1="381.95" y1="311.2" x2="424.45" y2="311.2" stroke="#bf2c56" stroke-width="1.5" opacity="0.85"/>
<line x1="424.45" y1="311.2" x2="457.95" y2="311.2" stroke="#74ba50" stroke-width="1.5" opacity="0.85"/>
<line x1="457.95" y1="311.2" x2="507.2" y2="311.2" stroke="#bf2c56" stroke-width="1.5" opacity="0.85"/>
<path d="M285.7,311.03 L286.2,310.92 L286.7,310.75 L287.2,310.49 L287.7,310.1 L288.2,309.53 L288.7,308.72 L289.2,307.6 L289.7,306.08 L290.2,304.07 L290.7,301.48 L291.2,298.24 L291.7,294.29 L292.2,289.61 L292.7,284.23 L293.2,278.22 L293.7,271.73 L294.2,264.98 L294.7,258.24 L295.2,251.8 L295.7,246.01 L296.2,241.19 L296.7,237.62 L297.2,235.52 L297.7,235.02 L298.2,236.16 L298.7,238.86 L299.2,242.95 L299.7,248.17 L300.2,254.21 L300.7,260.75 L301.2,267.45 L301.7,274 L302.2,280.14 L302.7,285.67 L303.2,290.46 L303.7,294.43 L304.2,297.57 L304.7,299.89 L305.2,301.46 L305.7,302.36 L306.2,302.68 L306.7,302.55 L307.2,302.08 L307.7,301.37 L308.2,300.53 L308.7,299.67 L309.2,298.89 L309.7,298.25 L310.2,297.83 L310.7,297.66 L311.2,297.77 L311.7,298.15 L312.2,298.79 L312.7,299.65 L313.2,300.68 L313.7,301.82 L314.2,303.01 L314.7,304.21 L315.2,305.36 L315.7,306.42 L316.2,307.38 L316.7,308.2 L317.2,308.9 L317.7,309.48 L318.2,309.94 L318.7,310.29 L319.2,310.56 L319.7,310.76 L320.2,310.9 L320.7,311.01" fill="none" stroke="#5f2f7c" stroke-width="1.15" stroke-linejoin="round"/>
<path d="M339.7,310.96 L340.2,310.84 L340.7,310.68 L341.2,310.46 L341.7,310.17 L342.2,309.8 L342.7,309.35 L343.2,308.81 L343.7,308.19 L344.2,307.49 L344.7,306.75 L345.2,305.98 L345.7,305.23 L346.2,304.54 L346.7,303.94 L347.2,303.49 L347.7,303.2 L348.2,303.1 L348.7,303.2 L349.2,303.49 L349.7,303.94 L350.2,304.54 L350.7,305.23 L351.2,305.98 L351.7,306.75 L352.2,307.49 L352.7,308.19 L353.2,308.81 L353.7,309.35 L354.2,309.8 L354.7,310.17 L355.2,310.46 L355.7,310.68 L356.2,310.84 L356.7,310.96" fill="none" stroke="#5f2f7c" stroke-width="1.15" stroke-linejoin="round"/>
<path d="M385.7,311.02 L386.2,310.91 L386.7,310.73 L387.2,310.47 L387.7,310.08 L388.2,309.54 L388.7,308.79 L389.2,307.78 L389.7,306.46 L390.2,304.8 L390.7,302.77 L391.2,300.36 L391.7,297.6 L392.2,294.55 L392.7,291.3 L393.2,287.99 L393.7,284.78 L394.2,281.86 L394.7,279.39 L395.2,277.56 L395.7,276.47 L396.2,276.22 L396.7,276.81 L397.2,278.21 L397.7,280.31 L398.2,282.98 L398.7,286.04 L399.2,289.31 L399.7,292.61 L400.2,295.8 L400.7,298.74 L401.2,301.37 L401.7,303.63 L402.2,305.51 L402.7,307.03 L403.2,308.21 L403.7,309.11 L404.2,309.78 L404.7,310.25 L405.2,310.59 L405.7,310.81 L406.2,310.96" fill="none" stroke="#5f2f7c" stroke-width="1.15" stroke-linejoin="round"/>
<path d="M448.2,311.05 L448.7,310.95 L449.2,310.78 L449.7,310.52 L450.2,310.12 L450.7,309.53 L451.2,308.67 L451.7,307.47 L452.2,305.84 L452.7,303.67 L453.2,300.88 L453.7,297.41 L454.2,293.2 L454.7,288.28 L455.2,282.72 L455.7,276.66 L456.2,270.32 L456.7,263.99 L457.2,257.99 L457.7,252.67 L458.2,248.38 L458.7,245.39 L459.2,243.93 L459.7,244.1 L460.2,245.87 L460.7,249.14 L461.2,253.66 L461.7,259.14 L462.2,265.24 L462.7,271.6 L463.2,277.9 L463.7,283.87 L464.2,289.32 L464.7,294.1 L465.2,298.16 L465.7,301.49 L466.2,304.15 L466.7,306.2 L467.2,307.74 L467.7,308.87 L468.2,309.66 L468.7,310.21 L469.2,310.58 L469.7,310.82 L470.2,310.97" fill="none" stroke="#5f2f7c" stroke-width="1.15" stroke-linejoin="round"/>
<path d="M250.2,274.83 L250.2,274.83 L250.7,278.05 L251.2,281.62 L251.7,285.29 L252.2,288.81 L252.7,291.97 L253.2,294.56 L253.7,296.44 L254.2,297.5 L254.7,297.65 L255.2,296.86 L255.7,295.15 L256.2,292.57 L256.7,289.23 L257.2,285.28 L257.7,280.93 L258.2,276.42 L258.7,272.02 L259.2,268.02 L259.7,264.7 L260.2,262.3 L260.7,260.99 L261.2,260.88 L261.7,261.98 L262.2,264.22 L262.7,267.43 L263.2,271.41 L263.7,275.89 L264.2,280.63 L264.7,285.37 L265.2,289.9 L265.7,294.06 L266.2,297.74 L266.7,300.89 L267.2,303.49 L267.7,305.57 L268.2,307.19 L268.7,308.41 L269.2,309.31 L269.7,309.95 L270.2,310.39 L270.7,310.69 L271.2,310.89 L271.7,311.01" fill="none" stroke="#3a5a9c" stroke-width="1.15" stroke-linejoin="round"/>
<path d="M312.2,311.02 L312.7,310.9 L313.2,310.72 L313.7,310.44 L314.2,310.04 L314.7,309.46 L315.2,308.66 L315.7,307.58 L316.2,306.17 L316.7,304.37 L317.2,302.16 L317.7,299.52 L318.2,296.47 L318.7,293.07 L319.2,289.43 L319.7,285.68 L320.2,282.01 L320.7,278.62 L321.2,275.72 L321.7,273.48 L322.2,272.07 L322.7,271.58 L323.2,272.04 L323.7,273.42 L324.2,275.6 L324.7,278.42 L325.2,281.67 L325.7,285.11 L326.2,288.51 L326.7,291.63 L327.2,294.28 L327.7,296.25 L328.2,297.42 L328.7,297.65 L329.2,296.87 L329.7,295.03 L330.2,292.12 L330.7,288.19 L331.2,283.34 L331.7,277.75 L332.2,271.65 L332.7,265.34 L333.2,259.16 L333.7,253.49 L334.2,248.71 L334.7,245.13 L335.2,243.02 L335.7,242.52 L336.2,243.69 L336.7,246.44 L337.2,250.57 L337.7,255.81 L338.2,261.81 L338.7,268.23 L339.2,274.71 L339.7,280.97 L340.2,286.75 L340.7,291.91 L341.2,296.34 L341.7,300.03 L342.2,303.01 L342.7,305.34 L343.2,307.11 L343.7,308.41 L344.2,309.34 L344.7,310 L345.2,310.44 L345.7,310.73 L346.2,310.92 L346.7,311.03" fill="none" stroke="#3a5a9c" stroke-width="1.15" stroke-linejoin="round"/>
<path d="M398.7,311.04 L399.2,310.93 L399.7,310.76 L400.2,310.5 L400.7,310.1 L401.2,309.53 L401.7,308.71 L402.2,307.58 L402.7,306.06 L403.2,304.09 L403.7,301.61 L404.2,298.56 L404.7,294.94 L405.2,290.8 L405.7,286.22 L406.2,281.34 L406.7,276.38 L407.2,271.57 L407.7,267.18 L408.2,263.49 L408.7,260.73 L409.2,259.09 L409.7,258.69 L410.2,259.55 L410.7,261.59 L411.2,264.66 L411.7,268.53 L412.2,272.9 L412.7,277.47 L413.2,281.92 L413.7,285.98 L414.2,289.38 L414.7,291.92 L415.2,293.45 L415.7,293.85 L416.2,293.1 L416.7,291.19 L417.2,288.2 L417.7,284.26 L418.2,279.54 L418.7,274.32 L419.2,268.88 L419.7,263.57 L420.2,258.74 L420.7,254.72 L421.2,251.81 L421.7,250.23 L422.2,250.1 L422.7,251.43 L423.2,254.15 L423.7,258.05 L424.2,262.88 L424.7,268.33 L425.2,274.08 L425.7,279.83 L426.2,285.34 L426.7,290.39 L427.2,294.86 L427.7,298.68 L428.2,301.83 L428.7,304.36 L429.2,306.33 L429.7,307.82 L430.2,308.9 L430.7,309.68 L431.2,310.22 L431.7,310.58 L432.2,310.82 L432.7,310.97" fill="none" stroke="#3a5a9c" stroke-width="1.15" stroke-linejoin="round"/>
<path d="M474.7,310.99 L475.2,310.86 L475.7,310.65 L476.2,310.33 L476.7,309.87 L477.2,309.21 L477.7,308.29 L478.2,307.06 L478.7,305.44 L479.2,303.39 L479.7,300.86 L480.2,297.84 L480.7,294.35 L481.2,290.46 L481.7,286.29 L482.2,282.01 L482.7,277.81 L483.2,273.94 L483.7,270.61 L484.2,268.06 L484.7,266.45 L485.2,265.9 L485.7,266.45 L486.2,268.06 L486.7,270.61 L487.2,273.94 L487.7,277.81 L488.2,282.01 L488.7,286.29 L489.2,290.46 L489.7,294.35 L490.2,297.84 L490.7,300.86 L491.2,303.39 L491.7,305.44 L492.2,307.06 L492.7,308.29 L493.2,309.21 L493.7,309.87 L494.2,310.33 L494.7,310.65 L495.2,310.86 L495.7,310.99" fill="none" stroke="#3a5a9c" stroke-width="1.15" stroke-linejoin="round"/>
<path d="M301.2,311.01 L301.7,310.89 L302.2,310.7 L302.7,310.43 L303.2,310.04 L303.7,309.49 L304.2,308.73 L304.7,307.74 L305.2,306.46 L305.7,304.86 L306.2,302.92 L306.7,300.66 L307.2,298.1 L307.7,295.31 L308.2,292.4 L308.7,289.48 L309.2,286.72 L309.7,284.28 L310.2,282.3 L310.7,280.93 L311.2,280.26 L311.7,280.34 L312.2,281.15 L312.7,282.66 L313.2,284.74 L313.7,287.26 L314.2,290.06 L314.7,292.98 L315.2,295.88 L315.7,298.63 L316.2,301.14 L316.7,303.34 L317.2,305.2 L317.7,306.74 L318.2,307.96 L318.7,308.9 L319.2,309.61 L319.7,310.13 L320.2,310.49 L320.7,310.75 L321.2,310.92 L321.7,311.03" fill="none" stroke="#74ba50" stroke-width="1.15" stroke-linejoin="round"/>
<path d="M336.7,311.04 L337.2,310.93 L337.7,310.78 L338.2,310.54 L338.7,310.21 L339.2,309.74 L339.7,309.1 L340.2,308.25 L340.7,307.16 L341.2,305.8 L341.7,304.15 L342.2,302.22 L342.7,300.04 L343.2,297.67 L343.7,295.19 L344.2,292.71 L344.7,290.36 L345.2,288.27 L345.7,286.59 L346.2,285.41 L346.7,284.83 L347.2,284.88 L347.7,285.54 L348.2,286.77 L348.7,288.46 L349.2,290.47 L349.7,292.65 L350.2,294.83 L350.7,296.83 L351.2,298.51 L351.7,299.71 L352.2,300.32 L352.7,300.25 L353.2,299.43 L353.7,297.84 L354.2,295.48 L354.7,292.41 L355.2,288.72 L355.7,284.57 L356.2,280.16 L356.7,275.73 L357.2,271.54 L357.7,267.87 L358.2,264.96 L358.7,263.02 L359.2,262.21 L359.7,262.57 L360.2,264.1 L360.7,266.67 L361.2,270.12 L361.7,274.21 L362.2,278.7 L362.7,283.33 L363.2,287.88 L363.7,292.16 L364.2,296.03 L364.7,299.4 L365.2,302.25 L365.7,304.57 L366.2,306.41 L366.7,307.82 L367.2,308.87 L367.7,309.64 L368.2,310.18 L368.7,310.54 L369.2,310.79 L369.7,310.95 L370.2,311.04" fill="none" stroke="#74ba50" stroke-width="1.15" stroke-linejoin="round"/>
<path d="M372.7,311.02 L373.2,310.91 L373.7,310.73 L374.2,310.46 L374.7,310.05 L375.2,309.46 L375.7,308.62 L376.2,307.46 L376.7,305.93 L377.2,303.94 L377.7,301.45 L378.2,298.41 L378.7,294.84 L379.2,290.77 L379.7,286.3 L380.2,281.59 L380.7,276.83 L381.2,272.27 L381.7,268.17 L382.2,264.79 L382.7,262.35 L383.2,261.02 L383.7,260.9 L384.2,261.99 L384.7,264.22 L385.2,267.43 L385.7,271.41 L386.2,275.89 L386.7,280.63 L387.2,285.37 L387.7,289.9 L388.2,294.06 L388.7,297.74 L389.2,300.89 L389.7,303.49 L390.2,305.57 L390.7,307.19 L391.2,308.41 L391.7,309.31 L392.2,309.95 L392.7,310.39 L393.2,310.69 L393.7,310.89 L394.2,311.01" fill="none" stroke="#74ba50" stroke-width="1.15" stroke-linejoin="round"/>
<path d="M462.7,310.97 L463.2,310.82 L463.7,310.59 L464.2,310.24 L464.7,309.74 L465.2,309.03 L465.7,308.04 L466.2,306.72 L466.7,305 L467.2,302.83 L467.7,300.17 L468.2,297.02 L468.7,293.4 L469.2,289.41 L469.7,285.15 L470.2,280.82 L470.7,276.63 L471.2,272.8 L471.7,269.58 L472.2,267.18 L472.7,265.76 L473.2,265.42 L473.7,266.2 L474.2,268.03 L474.7,270.78 L475.2,274.27 L475.7,278.28 L476.2,282.55 L476.7,286.88 L477.2,291.04 L477.7,294.9 L478.2,298.34 L478.7,301.3 L479.2,303.76 L479.7,305.74 L480.2,307.29 L480.7,308.47 L481.2,309.34 L481.7,309.96 L482.2,310.4 L482.7,310.69 L483.2,310.88 L483.7,311" fill="none" stroke="#74ba50" stroke-width="1.15" stroke-linejoin="round"/>
<path d="M486.2,310.99 L486.7,310.87 L487.2,310.68 L487.7,310.39 L488.2,309.97 L488.7,309.37 L489.2,308.56 L489.7,307.48 L490.2,306.07 L490.7,304.31 L491.2,302.17 L491.7,299.64 L492.2,296.77 L492.7,293.61 L493.2,290.28 L493.7,286.92 L494.2,283.7 L494.7,280.8 L495.2,278.41 L495.7,276.67 L496.2,275.72 L496.7,275.6 L497.2,276.32 L497.7,277.82 L498.2,279.95 L498.7,282.56 L499.2,285.41 L499.7,288.3 L500.2,290.99 L500.7,293.27 L501.2,294.96 L501.7,295.92 L502.2,296.05 L502.7,295.28 L503.2,293.63 L503.7,291.14 L504.2,287.93 L504.7,284.16 L505.2,280.04 L505.7,275.84 L506.2,271.82 L506.7,268.27 L507.2,265.44" fill="none" stroke="#74ba50" stroke-width="1.15" stroke-linejoin="round"/>
<path d="M262.2,311.03 L262.7,310.91 L263.2,310.74 L263.7,310.47 L264.2,310.07 L264.7,309.5 L265.2,308.71 L265.7,307.63 L266.2,306.22 L266.7,304.41 L267.2,302.16 L267.7,299.46 L268.2,296.32 L268.7,292.8 L269.2,289 L269.7,285.05 L270.2,281.15 L270.7,277.5 L271.2,274.31 L271.7,271.79 L272.2,270.12 L272.7,269.41 L273.2,269.7 L273.7,270.98 L274.2,273.14 L274.7,276.02 L275.2,279.42 L275.7,283.11 L276.2,286.83 L276.7,290.36 L277.2,293.5 L277.7,296.07 L278.2,297.92 L278.7,298.96 L279.2,299.12 L279.7,298.35 L280.2,296.66 L280.7,294.08 L281.2,290.69 L281.7,286.61 L282.2,282.01 L282.7,277.14 L283.2,272.24 L283.7,267.62 L284.2,263.56 L284.7,260.35 L285.2,258.22 L285.7,257.31 L286.2,257.71 L286.7,259.39 L287.2,262.22 L287.7,266.01 L288.2,270.51 L288.7,275.45 L289.2,280.55 L289.7,285.55 L290.2,290.26 L290.7,294.51 L291.2,298.22 L291.7,301.35 L292.2,303.91 L292.7,305.93 L293.2,307.48 L293.7,308.64 L294.2,309.48 L294.7,310.07 L295.2,310.48 L295.7,310.75 L296.2,310.93 L296.7,311.04" fill="none" stroke="#bf2c56" stroke-width="1.15" stroke-linejoin="round"/>
<path d="M360.7,310.98 L361.2,310.83 L361.7,310.6 L362.2,310.25 L362.7,309.73 L363.2,308.98 L363.7,307.92 L364.2,306.48 L364.7,304.58 L365.2,302.12 L365.7,299.06 L366.2,295.36 L366.7,291.03 L367.2,286.14 L367.7,280.81 L368.2,275.23 L368.7,269.66 L369.2,264.38 L369.7,259.7 L370.2,255.93 L370.7,253.3 L371.2,252.02 L371.7,252.16 L372.2,253.72 L372.7,256.6 L373.2,260.58 L373.7,265.4 L374.2,270.76 L374.7,276.36 L375.2,281.9 L375.7,287.16 L376.2,291.95 L376.7,296.16 L377.2,299.73 L377.7,302.66 L378.2,305 L378.7,306.8 L379.2,308.16 L379.7,309.15 L380.2,309.85 L380.7,310.33 L381.2,310.65 L381.7,310.87 L382.2,311" fill="none" stroke="#bf2c56" stroke-width="1.15" stroke-linejoin="round"/>
<path d="M424.2,310.98 L424.7,310.85 L425.2,310.63 L425.7,310.32 L426.2,309.85 L426.7,309.19 L427.2,308.28 L427.7,307.06 L428.2,305.48 L428.7,303.47 L429.2,301.01 L429.7,298.1 L430.2,294.76 L430.7,291.07 L431.2,287.15 L431.7,283.15 L432.2,279.27 L432.7,275.73 L433.2,272.76 L433.7,270.54 L434.2,269.22 L434.7,268.9 L435.2,269.6 L435.7,271.27 L436.2,273.77 L436.7,276.92 L437.2,280.5 L437.7,284.26 L438.2,287.97 L438.7,291.39 L439.2,294.33 L439.7,296.63 L440.2,298.16 L440.7,298.83 L441.2,298.6 L441.7,297.43 L442.2,295.36 L442.7,292.44 L443.2,288.77 L443.7,284.52 L444.2,279.88 L444.7,275.11 L445.2,270.48 L445.7,266.28 L446.2,262.8 L446.7,260.28 L447.2,258.91 L447.7,258.79 L448.2,259.94 L448.7,262.26 L449.2,265.61 L449.7,269.75 L450.2,274.42 L450.7,279.36 L451.2,284.29 L451.7,289.01 L452.2,293.35 L452.7,297.18 L453.2,300.46 L453.7,303.16 L454.2,305.34 L454.7,307.02 L455.2,308.3 L455.7,309.23 L456.2,309.9 L456.7,310.36 L457.2,310.67 L457.7,310.87 L458.2,311" fill="none" stroke="#bf2c56" stroke-width="1.15" stroke-linejoin="round"/>
<line x1="313.8" y1="99" x2="313.8" y2="106.3" stroke="#5aa6e2" stroke-width="1.3" />
<path d="M311.5,103.8 L316.1,103.8 L313.8,108.8 Z" fill="#5aa6e2"/>
<line x1="349.4" y1="99" x2="349.4" y2="106.3" stroke="#5aa6e2" stroke-width="1.3" />
<path d="M347.1,103.8 L351.7,103.8 L349.4,108.8 Z" fill="#5aa6e2"/>
<line x1="310" y1="248" x2="310" y2="254.8" stroke="#5aa6e2" stroke-width="1.3" />
<path d="M307.7,252.3 L312.3,252.3 L310,257.3 Z" fill="#5aa6e2"/>
<line x1="345.8" y1="248" x2="345.8" y2="254.8" stroke="#5aa6e2" stroke-width="1.3" />
<path d="M343.5,252.3 L348.1,252.3 L345.8,257.3 Z" fill="#5aa6e2"/>
<text x="364.2" y="90.4" font-size="8.6" text-anchor="start" fill="#111" font-weight="normal" font-style="italic" font-family='"Liberation Sans", sans-serif' >HBG1</text>
<text x="363.3" y="246.4" font-size="8.6" text-anchor="start" fill="#111" font-weight="normal" font-style="italic" font-family='"Liberation Sans", sans-serif' >HBG2</text>
<rect x="267.5" y="174.24" width="24.8" height="12.33" fill="#a2d3f1" stroke="none" stroke-width="1" />
<rect x="366.7" y="174.24" width="12.4" height="12.33" fill="#a2d3f1" stroke="none" stroke-width="1" />
<rect x="428.7" y="174.24" width="24.8" height="12.33" fill="#a2d3f1" stroke="none" stroke-width="1" />
<rect x="292.3" y="186.57" width="12.4" height="12.33" fill="#a2d3f1" stroke="none" stroke-width="1" />
<rect x="304.7" y="186.57" width="12.4" height="12.33" fill="#e8a9ab" stroke="none" stroke-width="1" />
<rect x="341.9" y="186.57" width="12.4" height="12.33" fill="#e8a9ab" stroke="none" stroke-width="1" />
<rect x="391.5" y="186.57" width="12.4" height="12.33" fill="#a2d3f1" stroke="none" stroke-width="1" />
<rect x="453.5" y="186.57" width="12.4" height="12.33" fill="#a2d3f1" stroke="none" stroke-width="1" />
<rect x="255.1" y="198.9" width="12.4" height="12.33" fill="#a2d3f1" stroke="none" stroke-width="1" />
<rect x="317.1" y="198.9" width="24.8" height="12.33" fill="#a2d3f1" stroke="none" stroke-width="1" />
<rect x="403.9" y="198.9" width="24.8" height="12.33" fill="#a2d3f1" stroke="none" stroke-width="1" />
<rect x="478.3" y="198.9" width="12.4" height="12.33" fill="#a2d3f1" stroke="none" stroke-width="1" />
<rect x="304.7" y="211.23" width="12.4" height="12.33" fill="#d6b6ca" stroke="none" stroke-width="1" />
<rect x="341.9" y="211.23" width="12.4" height="12.33" fill="#ccc0db" stroke="none" stroke-width="1" />
<rect x="354.3" y="211.23" width="12.4" height="12.33" fill="#a2d3f1" stroke="none" stroke-width="1" />
<rect x="379.1" y="211.23" width="12.4" height="12.33" fill="#a2d3f1" stroke="none" stroke-width="1" />
<rect x="465.9" y="211.23" width="12.4" height="12.33" fill="#a2d3f1" stroke="none" stroke-width="1" />
<rect x="490.7" y="211.23" width="12.4" height="12.33" fill="#a2d3f1" stroke="none" stroke-width="1" />
<text x="261.3" y="171" font-size="6.1" text-anchor="middle" fill="#121212" font-weight="normal" font-style="normal" font-family='"Liberation Sans", sans-serif' >C</text>
<text x="273.7" y="171" font-size="6.1" text-anchor="middle" fill="#121212" font-weight="normal" font-style="normal" font-family='"Liberation Sans", sans-serif' >T</text>
<text x="286.1" y="171" font-size="6.1" text-anchor="middle" fill="#121212" font-weight="normal" font-style="normal" font-family='"Liberation Sans", sans-serif' >T</text>
<text x="298.5" y="171" font-size="6.1" text-anchor="middle" fill="#121212" font-weight="normal" font-style="normal" font-family='"Liberation Sans", sans-serif' >G</text>
<text x="310.9" y="171" font-size="6.1" text-anchor="middle" fill="#121212" font-weight="normal" font-style="normal" font-family='"Liberation Sans", sans-serif' >A</text>
<text x="323.3" y="171" font-size="6.1" text-anchor="middle" fill="#121212" font-weight="normal" font-style="normal" font-family='"Liberation Sans", sans-serif' >C</text>
<text x="335.7" y="171" font-size="6.1" text-anchor="middle" fill="#121212" font-weight="normal" font-style="normal" font-family='"Liberation Sans", sans-serif' >C</text>
<text x="348.1" y="171" font-size="6.1" text-anchor="middle" fill="#121212" font-weight="normal" font-style="normal" font-family='"Liberation Sans", sans-serif' >A</text>
<text x="360.5" y="171" font-size="6.1" text-anchor="middle" fill="#121212" font-weight="normal" font-style="normal" font-family='"Liberation Sans", sans-serif' >A</text>
<text x="372.9" y="171" font-size="6.1" text-anchor="middle" fill="#121212" font-weight="normal" font-style="normal" font-family='"Liberation Sans", sans-serif' >T</text>
<text x="385.3" y="171" font-size="6.1" text-anchor="middle" fill="#121212" font-weight="normal" font-style="normal" font-family='"Liberation Sans", sans-serif' >A</text>
<text x="397.7" y="171" font-size="6.1" text-anchor="middle" fill="#121212" font-weight="normal" font-style="normal" font-family='"Liberation Sans", sans-serif' >G</text>
<text x="410.1" y="171" font-size="6.1" text-anchor="middle" fill="#121212" font-weight="normal" font-style="normal" font-family='"Liberation Sans", sans-serif' >C</text>
<text x="422.5" y="171" font-size="6.1" text-anchor="middle" fill="#121212" font-weight="normal" font-style="normal" font-family='"Liberation Sans", sans-serif' >C</text>
<text x="434.9" y="171" font-size="6.1" text-anchor="middle" fill="#121212" font-weight="normal" font-style="normal" font-family='"Liberation Sans", sans-serif' >T</text>
<text x="447.3" y="171" font-size="6.1" text-anchor="middle" fill="#121212" font-weight="normal" font-style="normal" font-family='"Liberation Sans", sans-serif' >T</text>
<text x="459.7" y="171" font-size="6.1" text-anchor="middle" fill="#121212" font-weight="normal" font-style="normal" font-family='"Liberation Sans", sans-serif' >G</text>
<text x="472.1" y="171" font-size="6.1" text-anchor="middle" fill="#121212" font-weight="normal" font-style="normal" font-family='"Liberation Sans", sans-serif' >A</text>
<text x="484.5" y="171" font-size="6.1" text-anchor="middle" fill="#121212" font-weight="normal" font-style="normal" font-family='"Liberation Sans", sans-serif' >C</text>
<text x="496.9" y="171" font-size="6.1" text-anchor="middle" fill="#121212" font-weight="normal" font-style="normal" font-family='"Liberation Sans", sans-serif' >A</text>
<text x="248.2" y="182.5" font-size="6.1" text-anchor="middle" fill="#121212" font-weight="normal" font-style="normal" font-family='"Liberation Sans", sans-serif' >T</text>
<text x="261.3" y="182.3" font-size="6.0" text-anchor="middle" fill="#121212" font-weight="normal" font-style="normal" font-family='"Liberation Sans", sans-serif' >0</text>
<text x="273.7" y="182.3" font-size="6.0" text-anchor="middle" fill="#121212" font-weight="normal" font-style="normal" font-family='"Liberation Sans", sans-serif' >100</text>
<text x="286.1" y="182.3" font-size="6.0" text-anchor="middle" fill="#121212" font-weight="normal" font-style="normal" font-family='"Liberation Sans", sans-serif' >100</text>
<text x="298.5" y="182.3" font-size="6.0" text-anchor="middle" fill="#121212" font-weight="normal" font-style="normal" font-family='"Liberation Sans", sans-serif' >0</text>
<text x="310.9" y="182.3" font-size="6.0" text-anchor="middle" fill="#121212" font-weight="normal" font-style="normal" font-family='"Liberation Sans", sans-serif' >0</text>
<text x="323.3" y="182.3" font-size="6.0" text-anchor="middle" fill="#121212" font-weight="normal" font-style="normal" font-family='"Liberation Sans", sans-serif' >0</text>
<text x="335.7" y="182.3" font-size="6.0" text-anchor="middle" fill="#121212" font-weight="normal" font-style="normal" font-family='"Liberation Sans", sans-serif' >0</text>
<text x="348.1" y="182.3" font-size="6.0" text-anchor="middle" fill="#121212" font-weight="normal" font-style="normal" font-family='"Liberation Sans", sans-serif' >0</text>
<text x="360.5" y="182.3" font-size="6.0" text-anchor="middle" fill="#121212" font-weight="normal" font-style="normal" font-family='"Liberation Sans", sans-serif' >0</text>
<text x="372.9" y="182.3" font-size="6.0" text-anchor="middle" fill="#121212" font-weight="normal" font-style="normal" font-family='"Liberation Sans", sans-serif' >100</text>
<text x="385.3" y="182.3" font-size="6.0" text-anchor="middle" fill="#121212" font-weight="normal" font-style="normal" font-family='"Liberation Sans", sans-serif' >0</text>
<text x="397.7" y="182.3" font-size="6.0" text-anchor="middle" fill="#121212" font-weight="normal" font-style="normal" font-family='"Liberation Sans", sans-serif' >0</text>
<text x="410.1" y="182.3" font-size="6.0" text-anchor="middle" fill="#121212" font-weight="normal" font-style="normal" font-family='"Liberation Sans", sans-serif' >0</text>
<text x="422.5" y="182.3" font-size="6.0" text-anchor="middle" fill="#121212" font-weight="normal" font-style="normal" font-family='"Liberation Sans", sans-serif' >0</text>
<text x="434.9" y="182.3" font-size="6.0" text-anchor="middle" fill="#121212" font-weight="normal" font-style="normal" font-family='"Liberation Sans", sans-serif' >100</text>
<text x="447.3" y="182.3" font-size="6.0" text-anchor="middle" fill="#121212" font-weight="normal" font-style="normal" font-family='"Liberation Sans", sans-serif' >100</text>
<text x="459.7" y="182.3" font-size="6.0" text-anchor="middle" fill="#121212" font-weight="normal" font-style="normal" font-family='"Liberation Sans", sans-serif' >0</text>
<text x="472.1" y="182.3" font-size="6.0" text-anchor="middle" fill="#121212" font-weight="normal" font-style="normal" font-family='"Liberation Sans", sans-serif' >0</text>
<text x="484.5" y="182.3" font-size="6.0" text-anchor="middle" fill="#121212" font-weight="normal" font-style="normal" font-family='"Liberation Sans", sans-serif' >0</text>
<text x="496.9" y="182.3" font-size="6.0" text-anchor="middle" fill="#121212" font-weight="normal" font-style="normal" font-family='"Liberation Sans", sans-serif' >0</text>
<text x="248.2" y="194.83" font-size="6.1" text-anchor="middle" fill="#121212" font-weight="normal" font-style="normal" font-family='"Liberation Sans", sans-serif' >G</text>
<text x="261.3" y="194.63" font-size="6.0" text-anchor="middle" fill="#121212" font-weight="normal" font-style="normal" font-family='"Liberation Sans", sans-serif' >0</text>
<text x="273.7" y="194.63" font-size="6.0" text-anchor="middle" fill="#121212" font-weight="normal" font-style="normal" font-family='"Liberation Sans", sans-serif' >0</text>
<text x="286.1" y="194.63" font-size="6.0" text-anchor="middle" fill="#121212" font-weight="normal" font-style="normal" font-family='"Liberation Sans", sans-serif' >0</text>
<text x="298.5" y="194.63" font-size="6.0" text-anchor="middle" fill="#121212" font-weight="normal" font-style="normal" font-family='"Liberation Sans", sans-serif' >100</text>
<text x="310.9" y="194.63" font-size="6.0" text-anchor="middle" fill="#121212" font-weight="normal" font-style="normal" font-family='"Liberation Sans", sans-serif' >40</text>
<text x="323.3" y="194.63" font-size="6.0" text-anchor="middle" fill="#121212" font-weight="normal" font-style="normal" font-family='"Liberation Sans", sans-serif' >0</text>
<text x="335.7" y="194.63" font-size="6.0" text-anchor="middle" fill="#121212" font-weight="normal" font-style="normal" font-family='"Liberation Sans", sans-serif' >0</text>
<text x="348.1" y="194.63" font-size="6.0" text-anchor="middle" fill="#121212" font-weight="normal" font-style="normal" font-family='"Liberation Sans", sans-serif' >30</text>
<text x="360.5" y="194.63" font-size="6.0" text-anchor="middle" fill="#121212" font-weight="normal" font-style="normal" font-family='"Liberation Sans", sans-serif' >1</text>
<text x="372.9" y="194.63" font-size="6.0" text-anchor="middle" fill="#121212" font-weight="normal" font-style="normal" font-family='"Liberation Sans", sans-serif' >0</text>
<text x="385.3" y="194.63" font-size="6.0" text-anchor="middle" fill="#121212" font-weight="normal" font-style="normal" font-family='"Liberation Sans", sans-serif' >2</text>
<text x="397.7" y="194.63" font-size="6.0" text-anchor="middle" fill="#121212" font-weight="normal" font-style="normal" font-family='"Liberation Sans", sans-serif' >100</text>
<text x="410.1" y="194.63" font-size="6.0" text-anchor="middle" fill="#121212" font-weight="normal" font-style="normal" font-family='"Liberation Sans", sans-serif' >0</text>
<text x="422.5" y="194.63" font-size="6.0" text-anchor="middle" fill="#121212" font-weight="normal" font-style="normal" font-family='"Liberation Sans", sans-serif' >0</text>
<text x="434.9" y="194.63" font-size="6.0" text-anchor="middle" fill="#121212" font-weight="normal" font-style="normal" font-family='"Liberation Sans", sans-serif' >0</text>
<text x="447.3" y="194.63" font-size="6.0" text-anchor="middle" fill="#121212" font-weight="normal" font-style="normal" font-family='"Liberation Sans", sans-serif' >0</text>
<text x="459.7" y="194.63" font-size="6.0" text-anchor="middle" fill="#121212" font-weight="normal" font-style="normal" font-family='"Liberation Sans", sans-serif' >100</text>
<text x="472.1" y="194.63" font-size="6.0" text-anchor="middle" fill="#121212" font-weight="normal" font-style="normal" font-family='"Liberation Sans", sans-serif' >0</text>
<text x="484.5" y="194.63" font-size="6.0" text-anchor="middle" fill="#121212" font-weight="normal" font-style="normal" font-family='"Liberation Sans", sans-serif' >0</text>
<text x="496.9" y="194.63" font-size="6.0" text-anchor="middle" fill="#121212" font-weight="normal" font-style="normal" font-family='"Liberation Sans", sans-serif' >0</text>
<text x="248.2" y="207.16" font-size="6.1" text-anchor="middle" fill="#121212" font-weight="normal" font-style="normal" font-family='"Liberation Sans", sans-serif' >C</text>
<text x="261.3" y="206.96" font-size="6.0" text-anchor="middle" fill="#121212" font-weight="normal" font-style="normal" font-family='"Liberation Sans", sans-serif' >100</text>
<text x="273.7" y="206.96" font-size="6.0" text-anchor="middle" fill="#121212" font-weight="normal" font-style="normal" font-family='"Liberation Sans", sans-serif' >0</text>
<text x="286.1" y="206.96" font-size="6.0" text-anchor="middle" fill="#121212" font-weight="normal" font-style="normal" font-family='"Liberation Sans", sans-serif' >0</text>
<text x="298.5" y="206.96" font-size="6.0" text-anchor="middle" fill="#121212" font-weight="normal" font-style="normal" font-family='"Liberation Sans", sans-serif' >0</text>
<text x="310.9" y="206.96" font-size="6.0" text-anchor="middle" fill="#121212" font-weight="normal" font-style="normal" font-family='"Liberation Sans", sans-serif' >0</text>
<text x="323.3" y="206.96" font-size="6.0" text-anchor="middle" fill="#121212" font-weight="normal" font-style="normal" font-family='"Liberation Sans", sans-serif' >100</text>
<text x="335.7" y="206.96" font-size="6.0" text-anchor="middle" fill="#121212" font-weight="normal" font-style="normal" font-family='"Liberation Sans", sans-serif' >100</text>
<text x="348.1" y="206.96" font-size="6.0" text-anchor="middle" fill="#121212" font-weight="normal" font-style="normal" font-family='"Liberation Sans", sans-serif' >0</text>
<text x="360.5" y="206.96" font-size="6.0" text-anchor="middle" fill="#121212" font-weight="normal" font-style="normal" font-family='"Liberation Sans", sans-serif' >0</text>
<text x="372.9" y="206.96" font-size="6.0" text-anchor="middle" fill="#121212" font-weight="normal" font-style="normal" font-family='"Liberation Sans", sans-serif' >0</text>
<text x="385.3" y="206.96" font-size="6.0" text-anchor="middle" fill="#121212" font-weight="normal" font-style="normal" font-family='"Liberation Sans", sans-serif' >0</text>
<text x="397.7" y="206.96" font-size="6.0" text-anchor="middle" fill="#121212" font-weight="normal" font-style="normal" font-family='"Liberation Sans", sans-serif' >0</text>
<text x="410.1" y="206.96" font-size="6.0" text-anchor="middle" fill="#121212" font-weight="normal" font-style="normal" font-family='"Liberation Sans", sans-serif' >100</text>
<text x="422.5" y="206.96" font-size="6.0" text-anchor="middle" fill="#121212" font-weight="normal" font-style="normal" font-family='"Liberation Sans", sans-serif' >100</text>
<text x="434.9" y="206.96" font-size="6.0" text-anchor="middle" fill="#121212" font-weight="normal" font-style="normal" font-family='"Liberation Sans", sans-serif' >0</text>
<text x="447.3" y="206.96" font-size="6.0" text-anchor="middle" fill="#121212" font-weight="normal" font-style="normal" font-family='"Liberation Sans", sans-serif' >0</text>
<text x="459.7" y="206.96" font-size="6.0" text-anchor="middle" fill="#121212" font-weight="normal" font-style="normal" font-family='"Liberation Sans", sans-serif' >0</text>
<text x="472.1" y="206.96" font-size="6.0" text-anchor="middle" fill="#121212" font-weight="normal" font-style="normal" font-family='"Liberation Sans", sans-serif' >0</text>
<text x="484.5" y="206.96" font-size="6.0" text-anchor="middle" fill="#121212" font-weight="normal" font-style="normal" font-family='"Liberation Sans", sans-serif' >100</text>
<text x="496.9" y="206.96" font-size="6.0" text-anchor="middle" fill="#121212" font-weight="normal" font-style="normal" font-family='"Liberation Sans", sans-serif' >0</text>
<text x="248.2" y="219.49" font-size="6.1" text-anchor="middle" fill="#121212" font-weight="normal" font-style="normal" font-family='"Liberation Sans", sans-serif' >A</text>
<text x="261.3" y="219.29" font-size="6.0" text-anchor="middle" fill="#121212" font-weight="normal" font-style="normal" font-family='"Liberation Sans", sans-serif' >0</text>
<text x="273.7" y="219.29" font-size="6.0" text-anchor="middle" fill="#121212" font-weight="normal" font-style="normal" font-family='"Liberation Sans", sans-serif' >0</text>
<text x="286.1" y="219.29" font-size="6.0" text-anchor="middle" fill="#121212" font-weight="normal" font-style="normal" font-family='"Liberation Sans", sans-serif' >0</text>
<text x="298.5" y="219.29" font-size="6.0" text-anchor="middle" fill="#121212" font-weight="normal" font-style="normal" font-family='"Liberation Sans", sans-serif' >0</text>
<text x="310.9" y="219.29" font-size="6.0" text-anchor="middle" fill="#121212" font-weight="normal" font-style="normal" font-family='"Liberation Sans", sans-serif' >60</text>
<text x="323.3" y="219.29" font-size="6.0" text-anchor="middle" fill="#121212" font-weight="normal" font-style="normal" font-family='"Liberation Sans", sans-serif' >0</text>
<text x="335.7" y="219.29" font-size="6.0" text-anchor="middle" fill="#121212" font-weight="normal" font-style="normal" font-family='"Liberation Sans", sans-serif' >0</text>
<text x="348.1" y="219.29" font-size="6.0" text-anchor="middle" fill="#121212" font-weight="normal" font-style="normal" font-family='"Liberation Sans", sans-serif' >70</text>
<text x="360.5" y="219.29" font-size="6.0" text-anchor="middle" fill="#121212" font-weight="normal" font-style="normal" font-family='"Liberation Sans", sans-serif' >99</text>
<text x="372.9" y="219.29" font-size="6.0" text-anchor="middle" fill="#121212" font-weight="normal" font-style="normal" font-family='"Liberation Sans", sans-serif' >0</text>
<text x="385.3" y="219.29" font-size="6.0" text-anchor="middle" fill="#121212" font-weight="normal" font-style="normal" font-family='"Liberation Sans", sans-serif' >98</text>
<text x="397.7" y="219.29" font-size="6.0" text-anchor="middle" fill="#121212" font-weight="normal" font-style="normal" font-family='"Liberation Sans", sans-serif' >0</text>
<text x="410.1" y="219.29" font-size="6.0" text-anchor="middle" fill="#121212" font-weight="normal" font-style="normal" font-family='"Liberation Sans", sans-serif' >0</text>
<text x="422.5" y="219.29" font-size="6.0" text-anchor="middle" fill="#121212" font-weight="normal" font-style="normal" font-family='"Liberation Sans", sans-serif' >0</text>
<text x="434.9" y="219.29" font-size="6.0" text-anchor="middle" fill="#121212" font-weight="normal" font-style="normal" font-family='"Liberation Sans", sans-serif' >0</text>
<text x="447.3" y="219.29" font-size="6.0" text-anchor="middle" fill="#121212" font-weight="normal" font-style="normal" font-family='"Liberation Sans", sans-serif' >0</text>
<text x="459.7" y="219.29" font-size="6.0" text-anchor="middle" fill="#121212" font-weight="normal" font-style="normal" font-family='"Liberation Sans", sans-serif' >0</text>
<text x="472.1" y="219.29" font-size="6.0" text-anchor="middle" fill="#121212" font-weight="normal" font-style="normal" font-family='"Liberation Sans", sans-serif' >100</text>
<text x="484.5" y="219.29" font-size="6.0" text-anchor="middle" fill="#121212" font-weight="normal" font-style="normal" font-family='"Liberation Sans", sans-serif' >0</text>
<text x="496.9" y="219.29" font-size="6.0" text-anchor="middle" fill="#121212" font-weight="normal" font-style="normal" font-family='"Liberation Sans", sans-serif' >100</text>
<line x1="253.5" y1="172.6" x2="504.6" y2="172.6" stroke="#333" stroke-width="1.1" />
<line x1="253.5" y1="172.6" x2="253.5" y2="224.6" stroke="#333" stroke-width="1.1" />
<rect x="267.5" y="328.23" width="24.8" height="12.33" fill="#a2d3f1" stroke="none" stroke-width="1" />
<rect x="366.7" y="328.23" width="12.4" height="12.33" fill="#a2d3f1" stroke="none" stroke-width="1" />
<rect x="428.7" y="328.23" width="24.8" height="12.33" fill="#a2d3f1" stroke="none" stroke-width="1" />
<rect x="292.3" y="340.56" width="12.4" height="12.33" fill="#a2d3f1" stroke="none" stroke-width="1" />
<rect x="304.7" y="340.56" width="12.4" height="12.33" fill="#e8a9ab" stroke="none" stroke-width="1" />
<rect x="341.9" y="340.56" width="12.4" height="12.33" fill="#e8a9ab" stroke="none" stroke-width="1" />
<rect x="391.5" y="340.56" width="12.4" height="12.33" fill="#a2d3f1" stroke="none" stroke-width="1" />
<rect x="453.5" y="340.56" width="12.4" height="12.33" fill="#a2d3f1" stroke="none" stroke-width="1" />
<rect x="255.1" y="352.89" width="12.4" height="12.33" fill="#a2d3f1" stroke="none" stroke-width="1" />
<rect x="317.1" y="352.89" width="24.8" height="12.33" fill="#a2d3f1" stroke="none" stroke-width="1" />
<rect x="403.9" y="352.89" width="24.8" height="12.33" fill="#a2d3f1" stroke="none" stroke-width="1" />
<rect x="478.3" y="352.89" width="12.4" height="12.33" fill="#a2d3f1" stroke="none" stroke-width="1" />
<rect x="304.7" y="365.22" width="12.4" height="12.33" fill="#ccc0db" stroke="none" stroke-width="1" />
<rect x="341.9" y="365.22" width="12.4" height="12.33" fill="#ccc0db" stroke="none" stroke-width="1" />
<rect x="354.3" y="365.22" width="12.4" height="12.33" fill="#a2d3f1" stroke="none" stroke-width="1" />
<rect x="379.1" y="365.22" width="12.4" height="12.33" fill="#a2d3f1" stroke="none" stroke-width="1" />
<rect x="465.9" y="365.22" width="12.4" height="12.33" fill="#a2d3f1" stroke="none" stroke-width="1" />
<rect x="490.7" y="365.22" width="12.4" height="12.33" fill="#a2d3f1" stroke="none" stroke-width="1" />
<text x="261.3" y="325" font-size="6.1" text-anchor="middle" fill="#121212" font-weight="normal" font-style="normal" font-family='"Liberation Sans", sans-serif' >C</text>
<text x="273.7" y="325" font-size="6.1" text-anchor="middle" fill="#121212" font-weight="normal" font-style="normal" font-family='"Liberation Sans", sans-serif' >T</text>
<text x="286.1" y="325" font-size="6.1" text-anchor="middle" fill="#121212" font-weight="normal" font-style="normal" font-family='"Liberation Sans", sans-serif' >T</text>
<text x="298.5" y="325" font-size="6.1" text-anchor="middle" fill="#121212" font-weight="normal" font-style="normal" font-family='"Liberation Sans", sans-serif' >G</text>
<text x="310.9" y="325" font-size="6.1" text-anchor="middle" fill="#121212" font-weight="normal" font-style="normal" font-family='"Liberation Sans", sans-serif' >A</text>
<text x="323.3" y="325" font-size="6.1" text-anchor="middle" fill="#121212" font-weight="normal" font-style="normal" font-family='"Liberation Sans", sans-serif' >C</text>
<text x="335.7" y="325" font-size="6.1" text-anchor="middle" fill="#121212" font-weight="normal" font-style="normal" font-family='"Liberation Sans", sans-serif' >C</text>
<text x="348.1" y="325" font-size="6.1" text-anchor="middle" fill="#121212" font-weight="normal" font-style="normal" font-family='"Liberation Sans", sans-serif' >A</text>
<text x="360.5" y="325" font-size="6.1" text-anchor="middle" fill="#121212" font-weight="normal" font-style="normal" font-family='"Liberation Sans", sans-serif' >A</text>
<text x="372.9" y="325" font-size="6.1" text-anchor="middle" fill="#121212" font-weight="normal" font-style="normal" font-family='"Liberation Sans", sans-serif' >T</text>
<text x="385.3" y="325" font-size="6.1" text-anchor="middle" fill="#121212" font-weight="normal" font-style="normal" font-family='"Liberation Sans", sans-serif' >A</text>
<text x="397.7" y="325" font-size="6.1" text-anchor="middle" fill="#121212" font-weight="normal" font-style="normal" font-family='"Liberation Sans", sans-serif' >G</text>
<text x="410.1" y="325" font-size="6.1" text-anchor="middle" fill="#121212" font-weight="normal" font-style="normal" font-family='"Liberation Sans", sans-serif' >C</text>
<text x="422.5" y="325" font-size="6.1" text-anchor="middle" fill="#121212" font-weight="normal" font-style="normal" font-family='"Liberation Sans", sans-serif' >C</text>
<text x="434.9" y="325" font-size="6.1" text-anchor="middle" fill="#121212" font-weight="normal" font-style="normal" font-family='"Liberation Sans", sans-serif' >T</text>
<text x="447.3" y="325" font-size="6.1" text-anchor="middle" fill="#121212" font-weight="normal" font-style="normal" font-family='"Liberation Sans", sans-serif' >T</text>
<text x="459.7" y="325" font-size="6.1" text-anchor="middle" fill="#121212" font-weight="normal" font-style="normal" font-family='"Liberation Sans", sans-serif' >G</text>
<text x="472.1" y="325" font-size="6.1" text-anchor="middle" fill="#121212" font-weight="normal" font-style="normal" font-family='"Liberation Sans", sans-serif' >A</text>
<text x="484.5" y="325" font-size="6.1" text-anchor="middle" fill="#121212" font-weight="normal" font-style="normal" font-family='"Liberation Sans", sans-serif' >C</text>
<text x="496.9" y="325" font-size="6.1" text-anchor="middle" fill="#121212" font-weight="normal" font-style="normal" font-family='"Liberation Sans", sans-serif' >A</text>
<text x="248.2" y="336.5" font-size="6.1" text-anchor="middle" fill="#121212" font-weight="normal" font-style="normal" font-family='"Liberation Sans", sans-serif' >T</text>
<text x="261.3" y="336.3" font-size="6.0" text-anchor="middle" fill="#121212" font-weight="normal" font-style="normal" font-family='"Liberation Sans", sans-serif' >0</text>
<text x="273.7" y="336.3" font-size="6.0" text-anchor="middle" fill="#121212" font-weight="normal" font-style="normal" font-family='"Liberation Sans", sans-serif' >100</text>
<text x="286.1" y="336.3" font-size="6.0" text-anchor="middle" fill="#121212" font-weight="normal" font-style="normal" font-family='"Liberation Sans", sans-serif' >100</text>
<text x="298.5" y="336.3" font-size="6.0" text-anchor="middle" fill="#121212" font-weight="normal" font-style="normal" font-family='"Liberation Sans", sans-serif' >0</text>
<text x="310.9" y="336.3" font-size="6.0" text-anchor="middle" fill="#121212" font-weight="normal" font-style="normal" font-family='"Liberation Sans", sans-serif' >0</text>
<text x="323.3" y="336.3" font-size="6.0" text-anchor="middle" fill="#121212" font-weight="normal" font-style="normal" font-family='"Liberation Sans", sans-serif' >0</text>
<text x="335.7" y="336.3" font-size="6.0" text-anchor="middle" fill="#121212" font-weight="normal" font-style="normal" font-family='"Liberation Sans", sans-serif' >0</text>
<text x="348.1" y="336.3" font-size="6.0" text-anchor="middle" fill="#121212" font-weight="normal" font-style="normal" font-family='"Liberation Sans", sans-serif' >0</text>
<text x="360.5" y="336.3" font-size="6.0" text-anchor="middle" fill="#121212" font-weight="normal" font-style="normal" font-family='"Liberation Sans", sans-serif' >0</text>
<text x="372.9" y="336.3" font-size="6.0" text-anchor="middle" fill="#121212" font-weight="normal" font-style="normal" font-family='"Liberation Sans", sans-serif' >100</text>
<text x="385.3" y="336.3" font-size="6.0" text-anchor="middle" fill="#121212" font-weight="normal" font-style="normal" font-family='"Liberation Sans", sans-serif' >0</text>
<text x="397.7" y="336.3" font-size="6.0" text-anchor="middle" fill="#121212" font-weight="normal" font-style="normal" font-family='"Liberation Sans", sans-serif' >0</text>
<text x="410.1" y="336.3" font-size="6.0" text-anchor="middle" fill="#121212" font-weight="normal" font-style="normal" font-family='"Liberation Sans", sans-serif' >0</text>
<text x="422.5" y="336.3" font-size="6.0" text-anchor="middle" fill="#121212" font-weight="normal" font-style="normal" font-family='"Liberation Sans", sans-serif' >0</text>
<text x="434.9" y="336.3" font-size="6.0" text-anchor="middle" fill="#121212" font-weight="normal" font-style="normal" font-family='"Liberation Sans", sans-serif' >100</text>
<text x="447.3" y="336.3" font-size="6.0" text-anchor="middle" fill="#121212" font-weight="normal" font-style="normal" font-family='"Liberation Sans", sans-serif' >100</text>
<text x="459.7" y="336.3" font-size="6.0" text-anchor="middle" fill="#121212" font-weight="normal" font-style="normal" font-family='"Liberation Sans", sans-serif' >0</text>
<text x="472.1" y="336.3" font-size="6.0" text-anchor="middle" fill="#121212" font-weight="normal" font-style="normal" font-family='"Liberation Sans", sans-serif' >0</text>
<text x="484.5" y="336.3" font-size="6.0" text-anchor="middle" fill="#121212" font-weight="normal" font-style="normal" font-family='"Liberation Sans", sans-serif' >0</text>
<text x="496.9" y="336.3" font-size="6.0" text-anchor="middle" fill="#121212" font-weight="normal" font-style="normal" font-family='"Liberation Sans", sans-serif' >0</text>
<text x="248.2" y="348.83" font-size="6.1" text-anchor="middle" fill="#121212" font-weight="normal" font-style="normal" font-family='"Liberation Sans", sans-serif' >G</text>
<text x="261.3" y="348.63" font-size="6.0" text-anchor="middle" fill="#121212" font-weight="normal" font-style="normal" font-family='"Liberation Sans", sans-serif' >0</text>
<text x="273.7" y="348.63" font-size="6.0" text-anchor="middle" fill="#121212" font-weight="normal" font-style="normal" font-family='"Liberation Sans", sans-serif' >0</text>
<text x="286.1" y="348.63" font-size="6.0" text-anchor="middle" fill="#121212" font-weight="normal" font-style="normal" font-family='"Liberation Sans", sans-serif' >0</text>
<text x="298.5" y="348.63" font-size="6.0" text-anchor="middle" fill="#121212" font-weight="normal" font-style="normal" font-family='"Liberation Sans", sans-serif' >100</text>
<text x="310.9" y="348.63" font-size="6.0" text-anchor="middle" fill="#121212" font-weight="normal" font-style="normal" font-family='"Liberation Sans", sans-serif' >29</text>
<text x="323.3" y="348.63" font-size="6.0" text-anchor="middle" fill="#121212" font-weight="normal" font-style="normal" font-family='"Liberation Sans", sans-serif' >0</text>
<text x="335.7" y="348.63" font-size="6.0" text-anchor="middle" fill="#121212" font-weight="normal" font-style="normal" font-family='"Liberation Sans", sans-serif' >0</text>
<text x="348.1" y="348.63" font-size="6.0" text-anchor="middle" fill="#121212" font-weight="normal" font-style="normal" font-family='"Liberation Sans", sans-serif' >24</text>
<text x="360.5" y="348.63" font-size="6.0" text-anchor="middle" fill="#121212" font-weight="normal" font-style="normal" font-family='"Liberation Sans", sans-serif' >0</text>
<text x="372.9" y="348.63" font-size="6.0" text-anchor="middle" fill="#121212" font-weight="normal" font-style="normal" font-family='"Liberation Sans", sans-serif' >0</text>
<text x="385.3" y="348.63" font-size="6.0" text-anchor="middle" fill="#121212" font-weight="normal" font-style="normal" font-family='"Liberation Sans", sans-serif' >0</text>
<text x="397.7" y="348.63" font-size="6.0" text-anchor="middle" fill="#121212" font-weight="normal" font-style="normal" font-family='"Liberation Sans", sans-serif' >100</text>
<text x="410.1" y="348.63" font-size="6.0" text-anchor="middle" fill="#121212" font-weight="normal" font-style="normal" font-family='"Liberation Sans", sans-serif' >0</text>
<text x="422.5" y="348.63" font-size="6.0" text-anchor="middle" fill="#121212" font-weight="normal" font-style="normal" font-family='"Liberation Sans", sans-serif' >0</text>
<text x="434.9" y="348.63" font-size="6.0" text-anchor="middle" fill="#121212" font-weight="normal" font-style="normal" font-family='"Liberation Sans", sans-serif' >0</text>
<text x="447.3" y="348.63" font-size="6.0" text-anchor="middle" fill="#121212" font-weight="normal" font-style="normal" font-family='"Liberation Sans", sans-serif' >0</text>
<text x="459.7" y="348.63" font-size="6.0" text-anchor="middle" fill="#121212" font-weight="normal" font-style="normal" font-family='"Liberation Sans", sans-serif' >100</text>
<text x="472.1" y="348.63" font-size="6.0" text-anchor="middle" fill="#121212" font-weight="normal" font-style="normal" font-family='"Liberation Sans", sans-serif' >0</text>
<text x="484.5" y="348.63" font-size="6.0" text-anchor="middle" fill="#121212" font-weight="normal" font-style="normal" font-family='"Liberation Sans", sans-serif' >0</text>
<text x="496.9" y="348.63" font-size="6.0" text-anchor="middle" fill="#121212" font-weight="normal" font-style="normal" font-family='"Liberation Sans", sans-serif' >0</text>
<text x="248.2" y="361.16" font-size="6.1" text-anchor="middle" fill="#121212" font-weight="normal" font-style="normal" font-family='"Liberation Sans", sans-serif' >C</text>
<text x="261.3" y="360.96" font-size="6.0" text-anchor="middle" fill="#121212" font-weight="normal" font-style="normal" font-family='"Liberation Sans", sans-serif' >100</text>
<text x="273.7" y="360.96" font-size="6.0" text-anchor="middle" fill="#121212" font-weight="normal" font-style="normal" font-family='"Liberation Sans", sans-serif' >0</text>
<text x="286.1" y="360.96" font-size="6.0" text-anchor="middle" fill="#121212" font-weight="normal" font-style="normal" font-family='"Liberation Sans", sans-serif' >0</text>
<text x="298.5" y="360.96" font-size="6.0" text-anchor="middle" fill="#121212" font-weight="normal" font-style="normal" font-family='"Liberation Sans", sans-serif' >0</text>
<text x="310.9" y="360.96" font-size="6.0" text-anchor="middle" fill="#121212" font-weight="normal" font-style="normal" font-family='"Liberation Sans", sans-serif' >0</text>
<text x="323.3" y="360.96" font-size="6.0" text-anchor="middle" fill="#121212" font-weight="normal" font-style="normal" font-family='"Liberation Sans", sans-serif' >100</text>
<text x="335.7" y="360.96" font-size="6.0" text-anchor="middle" fill="#121212" font-weight="normal" font-style="normal" font-family='"Liberation Sans", sans-serif' >100</text>
<text x="348.1" y="360.96" font-size="6.0" text-anchor="middle" fill="#121212" font-weight="normal" font-style="normal" font-family='"Liberation Sans", sans-serif' >0</text>
<text x="360.5" y="360.96" font-size="6.0" text-anchor="middle" fill="#121212" font-weight="normal" font-style="normal" font-family='"Liberation Sans", sans-serif' >0</text>
<text x="372.9" y="360.96" font-size="6.0" text-anchor="middle" fill="#121212" font-weight="normal" font-style="normal" font-family='"Liberation Sans", sans-serif' >0</text>
<text x="385.3" y="360.96" font-size="6.0" text-anchor="middle" fill="#121212" font-weight="normal" font-style="normal" font-family='"Liberation Sans", sans-serif' >0</text>
<text x="397.7" y="360.96" font-size="6.0" text-anchor="middle" fill="#121212" font-weight="normal" font-style="normal" font-family='"Liberation Sans", sans-serif' >0</text>
<text x="410.1" y="360.96" font-size="6.0" text-anchor="middle" fill="#121212" font-weight="normal" font-style="normal" font-family='"Liberation Sans", sans-serif' >100</text>
<text x="422.5" y="360.96" font-size="6.0" text-anchor="middle" fill="#121212" font-weight="normal" font-style="normal" font-family='"Liberation Sans", sans-serif' >100</text>
<text x="434.9" y="360.96" font-size="6.0" text-anchor="middle" fill="#121212" font-weight="normal" font-style="normal" font-family='"Liberation Sans", sans-serif' >0</text>
<text x="447.3" y="360.96" font-size="6.0" text-anchor="middle" fill="#121212" font-weight="normal" font-style="normal" font-family='"Liberation Sans", sans-serif' >0</text>
<text x="459.7" y="360.96" font-size="6.0" text-anchor="middle" fill="#121212" font-weight="normal" font-style="normal" font-family='"Liberation Sans", sans-serif' >0</text>
<text x="472.1" y="360.96" font-size="6.0" text-anchor="middle" fill="#121212" font-weight="normal" font-style="normal" font-family='"Liberation Sans", sans-serif' >0</text>
<text x="484.5" y="360.96" font-size="6.0" text-anchor="middle" fill="#121212" font-weight="normal" font-style="normal" font-family='"Liberation Sans", sans-serif' >100</text>
<text x="496.9" y="360.96" font-size="6.0" text-anchor="middle" fill="#121212" font-weight="normal" font-style="normal" font-family='"Liberation Sans", sans-serif' >0</text>
<text x="248.2" y="373.49" font-size="6.1" text-anchor="middle" fill="#121212" font-weight="normal" font-style="normal" font-family='"Liberation Sans", sans-serif' >A</text>
<text x="261.3" y="373.29" font-size="6.0" text-anchor="middle" fill="#121212" font-weight="normal" font-style="normal" font-family='"Liberation Sans", sans-serif' >0</text>
<text x="273.7" y="373.29" font-size="6.0" text-anchor="middle" fill="#121212" font-weight="normal" font-style="normal" font-family='"Liberation Sans", sans-serif' >0</text>
<text x="286.1" y="373.29" font-size="6.0" text-anchor="middle" fill="#121212" font-weight="normal" font-style="normal" font-family='"Liberation Sans", sans-serif' >0</text>
<text x="298.5" y="373.29" font-size="6.0" text-anchor="middle" fill="#121212" font-weight="normal" font-style="normal" font-family='"Liberation Sans", sans-serif' >0</text>
<text x="310.9" y="373.29" font-size="6.0" text-anchor="middle" fill="#121212" font-weight="normal" font-style="normal" font-family='"Liberation Sans", sans-serif' >71</text>
<text x="323.3" y="373.29" font-size="6.0" text-anchor="middle" fill="#121212" font-weight="normal" font-style="normal" font-family='"Liberation Sans", sans-serif' >0</text>
<text x="335.7" y="373.29" font-size="6.0" text-anchor="middle" fill="#121212" font-weight="normal" font-style="normal" font-family='"Liberation Sans", sans-serif' >0</text>
<text x="348.1" y="373.29" font-size="6.0" text-anchor="middle" fill="#121212" font-weight="normal" font-style="normal" font-family='"Liberation Sans", sans-serif' >76</text>
<text x="360.5" y="373.29" font-size="6.0" text-anchor="middle" fill="#121212" font-weight="normal" font-style="normal" font-family='"Liberation Sans", sans-serif' >100</text>
<text x="372.9" y="373.29" font-size="6.0" text-anchor="middle" fill="#121212" font-weight="normal" font-style="normal" font-family='"Liberation Sans", sans-serif' >0</text>
<text x="385.3" y="373.29" font-size="6.0" text-anchor="middle" fill="#121212" font-weight="normal" font-style="normal" font-family='"Liberation Sans", sans-serif' >100</text>
<text x="397.7" y="373.29" font-size="6.0" text-anchor="middle" fill="#121212" font-weight="normal" font-style="normal" font-family='"Liberation Sans", sans-serif' >0</text>
<text x="410.1" y="373.29" font-size="6.0" text-anchor="middle" fill="#121212" font-weight="normal" font-style="normal" font-family='"Liberation Sans", sans-serif' >0</text>
<text x="422.5" y="373.29" font-size="6.0" text-anchor="middle" fill="#121212" font-weight="normal" font-style="normal" font-family='"Liberation Sans", sans-serif' >0</text>
<text x="434.9" y="373.29" font-size="6.0" text-anchor="middle" fill="#121212" font-weight="normal" font-style="normal" font-family='"Liberation Sans", sans-serif' >0</text>
<text x="447.3" y="373.29" font-size="6.0" text-anchor="middle" fill="#121212" font-weight="normal" font-style="normal" font-family='"Liberation Sans", sans-serif' >0</text>
<text x="459.7" y="373.29" font-size="6.0" text-anchor="middle" fill="#121212" font-weight="normal" font-style="normal" font-family='"Liberation Sans", sans-serif' >0</text>
<text x="472.1" y="373.29" font-size="6.0" text-anchor="middle" fill="#121212" font-weight="normal" font-style="normal" font-family='"Liberation Sans", sans-serif' >99</text>
<text x="484.5" y="373.29" font-size="6.0" text-anchor="middle" fill="#121212" font-weight="normal" font-style="normal" font-family='"Liberation Sans", sans-serif' >0</text>
<text x="496.9" y="373.29" font-size="6.0" text-anchor="middle" fill="#121212" font-weight="normal" font-style="normal" font-family='"Liberation Sans", sans-serif' >100</text>
<line x1="253.5" y1="326.6" x2="504.6" y2="326.6" stroke="#333" stroke-width="1.1" />
<line x1="253.5" y1="326.6" x2="253.5" y2="378.7" stroke="#333" stroke-width="1.1" />
<line x1="53.9" y1="277.6" x2="53.9" y2="409" stroke="#444" stroke-width="1.4" />
<line x1="51" y1="406.3" x2="195.3" y2="406.3" stroke="#1a1a1a" stroke-width="1.2" />
<line x1="51" y1="406.2" x2="53.9" y2="406.2" stroke="#444" stroke-width="1.1" />
<text transform="translate(48.3,409) scale(0.88,1)" font-size="9.7" text-anchor="end" fill="#111" font-weight="normal" font-family='"Liberation Sans", sans-serif' >0</text>
<line x1="51" y1="385.15" x2="53.9" y2="385.15" stroke="#444" stroke-width="1.1" />
<text transform="translate(48.3,387.95) scale(0.88,1)" font-size="9.7" text-anchor="end" fill="#111" font-weight="normal" font-family='"Liberation Sans", sans-serif' >10</text>
<line x1="51" y1="364.1" x2="53.9" y2="364.1" stroke="#444" stroke-width="1.1" />
<text transform="translate(48.3,366.9) scale(0.88,1)" font-size="9.7" text-anchor="end" fill="#111" font-weight="normal" font-family='"Liberation Sans", sans-serif' >20</text>
<line x1="51" y1="343.05" x2="53.9" y2="343.05" stroke="#444" stroke-width="1.1" />
<text transform="translate(48.3,345.85) scale(0.88,1)" font-size="9.7" text-anchor="end" fill="#111" font-weight="normal" font-family='"Liberation Sans", sans-serif' >30</text>
<line x1="51" y1="322" x2="53.9" y2="322" stroke="#444" stroke-width="1.1" />
<text transform="translate(48.3,324.8) scale(0.88,1)" font-size="9.7" text-anchor="end" fill="#111" font-weight="normal" font-family='"Liberation Sans", sans-serif' >40</text>
<line x1="51" y1="300.95" x2="53.9" y2="300.95" stroke="#444" stroke-width="1.1" />
<text transform="translate(48.3,303.75) scale(0.88,1)" font-size="9.7" text-anchor="end" fill="#111" font-weight="normal" font-family='"Liberation Sans", sans-serif' >50</text>
<line x1="51" y1="279.9" x2="53.9" y2="279.9" stroke="#444" stroke-width="1.1" />
<text transform="translate(48.3,282.7) scale(0.88,1)" font-size="9.7" text-anchor="end" fill="#111" font-weight="normal" font-family='"Liberation Sans", sans-serif' >60</text>
<line x1="53.8" y1="406.2" x2="53.8" y2="408.6" stroke="#333" stroke-width="1.1" />
<text transform="translate(53.8,420.2) scale(0.88,1)" font-size="9.7" text-anchor="middle" fill="#111" font-weight="normal" font-family='"Liberation Sans", sans-serif' >0</text>
<line x1="81.6" y1="406.2" x2="81.6" y2="408.6" stroke="#333" stroke-width="1.1" />
<text transform="translate(81.6,420.2) scale(0.88,1)" font-size="9.7" text-anchor="middle" fill="#111" font-weight="normal" font-family='"Liberation Sans", sans-serif' >20</text>
<line x1="109.4" y1="406.2" x2="109.4" y2="408.6" stroke="#333" stroke-width="1.1" />
<text transform="translate(109.4,420.2) scale(0.88,1)" font-size="9.7" text-anchor="middle" fill="#111" font-weight="normal" font-family='"Liberation Sans", sans-serif' >40</text>
<line x1="137.2" y1="406.2" x2="137.2" y2="408.6" stroke="#333" stroke-width="1.1" />
<text transform="translate(137.2,420.2) scale(0.88,1)" font-size="9.7" text-anchor="middle" fill="#111" font-weight="normal" font-family='"Liberation Sans", sans-serif' >60</text>
<line x1="165" y1="406.2" x2="165" y2="408.6" stroke="#333" stroke-width="1.1" />
<text transform="translate(165,420.2) scale(0.88,1)" font-size="9.7" text-anchor="middle" fill="#111" font-weight="normal" font-family='"Liberation Sans", sans-serif' >80</text>
<line x1="192.8" y1="406.2" x2="192.8" y2="408.6" stroke="#333" stroke-width="1.1" />
<text transform="translate(192.8,420.2) scale(0.88,1)" font-size="9.7" text-anchor="middle" fill="#111" font-weight="normal" font-family='"Liberation Sans", sans-serif' >100</text>
<text transform="translate(33.2,345.6) rotate(-90)" font-size="9.5" text-anchor="middle" fill="#111" font-family='"Liberation Sans", sans-serif' textLength="83" lengthAdjust="spacingAndGlyphs">% average base conversion</text>
<text x="124.6" y="433.8" font-size="8.9" text-anchor="middle" fill="#111" font-family='"Liberation Sans", sans-serif' textLength="53.6" lengthAdjust="spacingAndGlyphs">% γ-globin<tspan font-size="6.6" dy="-3.2">+</tspan><tspan dy="3.2"> cells</tspan></text>
<text x="67.9" y="299.4" font-size="8.1" fill="#111" font-family='"Liberation Sans", sans-serif' textLength="66.6" lengthAdjust="spacingAndGlyphs">R = 0.92, p &lt; 0.001</text>
<path d="M58.4,398.1 L62.3,402 L58.4,405.9 L54.5,402 Z" fill="#a8052c"/>
<path d="M68.5,378.7 L72.4,382.6 L68.5,386.5 L64.6,382.6 Z" fill="#a8052c"/>
<path d="M78,383.3 L81.9,387.2 L78,391.1 L74.1,387.2 Z" fill="#a8052c"/>
<path d="M108.4,351.4 L112.3,355.3 L108.4,359.2 L104.5,355.3 Z" fill="#a8052c"/>
<path d="M108.6,360.5 L112.5,364.4 L108.6,368.3 L104.7,364.4 Z" fill="#a8052c"/>
<path d="M130,324.6 L133.9,328.5 L130,332.4 L126.1,328.5 Z" fill="#a8052c"/>
<path d="M135.3,353.3 L139.2,357.2 L135.3,361.1 L131.4,357.2 Z" fill="#a8052c"/>
<path d="M151.2,349.1 L155.1,353 L151.2,356.9 L147.3,353 Z" fill="#a8052c"/>
<path d="M184.7,299.5 L188.6,303.4 L184.7,307.3 L180.8,303.4 Z" fill="#a8052c"/>
<line x1="58.4" y1="397" x2="187.7" y2="310.1" stroke="#000" stroke-width="1.3" />
<rect x="63.35" y="516.55" width="15.2" height="111.25" fill="#6aa744" stroke="#62a23b" stroke-width="0.7" />
<rect x="88.45" y="523.55" width="15.2" height="104.25" fill="#6aa744" stroke="#62a23b" stroke-width="0.7" />
<rect x="114.05" y="611.75" width="14.9" height="16.05" fill="#6aa744" stroke="#62a23b" stroke-width="0.7" />
<rect x="139.55" y="604.95" width="14.8" height="22.85" fill="#6aa744" stroke="#62a23b" stroke-width="0.7" />
<rect x="63" y="516.2" width="15.9" height="2" fill="#1d3c80" stroke="none" stroke-width="1" />
<line x1="70.9" y1="515.6" x2="70.9" y2="549.8" stroke="#111" stroke-width="1.3" />
<line x1="66.7" y1="515.6" x2="75.1" y2="515.6" stroke="#555" stroke-width="1.2" />
<line x1="66.7" y1="549.8" x2="75.1" y2="549.8" stroke="#111" stroke-width="1.3" />
<line x1="96.1" y1="522.7" x2="96.1" y2="554.6" stroke="#111" stroke-width="1.3" />
<line x1="91.9" y1="522.7" x2="100.3" y2="522.7" stroke="#555" stroke-width="1.2" />
<line x1="91.9" y1="554.6" x2="100.3" y2="554.6" stroke="#111" stroke-width="1.3" />
<line x1="121.5" y1="611.4" x2="121.5" y2="618.4" stroke="#111" stroke-width="1.3" />
<line x1="117.3" y1="618.4" x2="125.7" y2="618.4" stroke="#111" stroke-width="1.3" />
<line x1="146.6" y1="604.6" x2="146.6" y2="611.8" stroke="#111" stroke-width="1.3" />
<line x1="142.4" y1="611.8" x2="150.8" y2="611.8" stroke="#111" stroke-width="1.3" />
<line x1="54.2" y1="490.6" x2="54.2" y2="628.4" stroke="#333" stroke-width="1.3" />
<line x1="53.6" y1="627.8" x2="163.2" y2="627.8" stroke="#333" stroke-width="1.3" />
<line x1="51.8" y1="627.8" x2="54.2" y2="627.8" stroke="#333" stroke-width="1.1" />
<text transform="translate(47.9,631) scale(0.87,1)" font-size="9.0" text-anchor="end" fill="#111" font-weight="normal" font-family='"Liberation Sans", sans-serif' >0</text>
<line x1="51.8" y1="600.47" x2="54.2" y2="600.47" stroke="#333" stroke-width="1.1" />
<text transform="translate(47.9,603.67) scale(0.87,1)" font-size="9.0" text-anchor="end" fill="#111" font-weight="normal" font-family='"Liberation Sans", sans-serif' >5</text>
<line x1="51.8" y1="573.14" x2="54.2" y2="573.14" stroke="#333" stroke-width="1.1" />
<text transform="translate(47.9,576.34) scale(0.87,1)" font-size="9.0" text-anchor="end" fill="#111" font-weight="normal" font-family='"Liberation Sans", sans-serif' >10</text>
<line x1="51.8" y1="545.81" x2="54.2" y2="545.81" stroke="#333" stroke-width="1.1" />
<text transform="translate(47.9,549.01) scale(0.87,1)" font-size="9.0" text-anchor="end" fill="#111" font-weight="normal" font-family='"Liberation Sans", sans-serif' >15</text>
<line x1="51.8" y1="518.48" x2="54.2" y2="518.48" stroke="#333" stroke-width="1.1" />
<text transform="translate(47.9,521.68) scale(0.87,1)" font-size="9.0" text-anchor="end" fill="#111" font-weight="normal" font-family='"Liberation Sans", sans-serif' >20</text>
<line x1="51.8" y1="491.15" x2="54.2" y2="491.15" stroke="#333" stroke-width="1.1" />
<text transform="translate(47.9,494.35) scale(0.87,1)" font-size="9.0" text-anchor="end" fill="#111" font-weight="normal" font-family='"Liberation Sans", sans-serif' >25</text>
<line x1="70.9" y1="627.8" x2="70.9" y2="630.2" stroke="#333" stroke-width="1.1" />
<text transform="translate(70.9,641.7) scale(0.87,1)" font-size="9.0" text-anchor="middle" fill="#111" font-weight="normal" font-family='"Liberation Sans", sans-serif' >A5</text>
<line x1="96.1" y1="627.8" x2="96.1" y2="630.2" stroke="#333" stroke-width="1.1" />
<text transform="translate(96.1,641.7) scale(0.87,1)" font-size="9.0" text-anchor="middle" fill="#111" font-weight="normal" font-family='"Liberation Sans", sans-serif' >A8</text>
<line x1="121.5" y1="627.8" x2="121.5" y2="630.2" stroke="#333" stroke-width="1.1" />
<text transform="translate(121.5,641.7) scale(0.87,1)" font-size="9.0" text-anchor="middle" fill="#111" font-weight="normal" font-family='"Liberation Sans", sans-serif' >A9</text>
<line x1="146.6" y1="627.8" x2="146.6" y2="630.2" stroke="#333" stroke-width="1.1" />
<text transform="translate(146.6,641.7) scale(0.87,1)" font-size="9.0" text-anchor="middle" fill="#111" font-weight="normal" font-family='"Liberation Sans", sans-serif' >A11</text>
<text transform="translate(32.5,558.3) rotate(-90)" font-size="10.2" text-anchor="middle" fill="#111" font-family='"Liberation Sans", sans-serif' textLength="25" lengthAdjust="spacingAndGlyphs">% reads</text>
<line x1="126.9" y1="494" x2="144.2" y2="494" stroke="#1d3c80" stroke-width="2.5" />
<text x="147.7" y="497" font-size="8.6" fill="#111" font-family='"Liberation Sans", sans-serif' textLength="16.5" lengthAdjust="spacingAndGlyphs">A&gt;C</text>
<line x1="126.9" y1="505.8" x2="144.2" y2="505.8" stroke="#6aa744" stroke-width="2.5" />
<text x="147.7" y="508.8" font-size="8.6" fill="#111" font-family='"Liberation Sans", sans-serif' textLength="16.5" lengthAdjust="spacingAndGlyphs">A&gt;G</text>
<line x1="126.9" y1="517.5" x2="144.2" y2="517.5" stroke="#a1062a" stroke-width="2.5" />
<text x="147.7" y="520.5" font-size="8.6" fill="#111" font-family='"Liberation Sans", sans-serif' textLength="16.5" lengthAdjust="spacingAndGlyphs">A&gt;T</text>
<rect x="360.25" y="501.21" width="16.35" height="6.48" fill="#0b0bf2" stroke="none" stroke-width="1" />
<rect x="360.25" y="521.25" width="16.35" height="6.48" fill="#0b0bf2" stroke="none" stroke-width="1" />
<rect x="360.25" y="527.93" width="16.35" height="6.48" fill="#bfbfdf" stroke="none" stroke-width="1" />
<rect x="360.25" y="541.28" width="16.35" height="6.48" fill="#bfbfdf" stroke="none" stroke-width="1" />
<rect x="278.5" y="474.4" width="98.1" height="153.6" fill="none" stroke="#111" stroke-width="1.3" />
<line x1="327.55" y1="474.4" x2="327.55" y2="628" stroke="#111" stroke-width="1.3" />
<line x1="275.2" y1="477.74" x2="278.5" y2="477.74" stroke="#222" stroke-width="1.2" />
<text transform="translate(269.3,480.34) scale(1.12,1)" font-size="7.5" text-anchor="middle" fill="#777" font-weight="normal" font-family='"Liberation Mono", monospace' >C</text>
<line x1="275.2" y1="484.42" x2="278.5" y2="484.42" stroke="#222" stroke-width="1.2" />
<text transform="translate(269.3,487.02) scale(1.12,1)" font-size="7.5" text-anchor="middle" fill="#777" font-weight="normal" font-family='"Liberation Mono", monospace' >T</text>
<line x1="275.2" y1="491.1" x2="278.5" y2="491.1" stroke="#222" stroke-width="1.2" />
<text transform="translate(269.3,493.7) scale(1.12,1)" font-size="7.5" text-anchor="middle" fill="#777" font-weight="normal" font-family='"Liberation Mono", monospace' >T</text>
<line x1="275.2" y1="497.77" x2="278.5" y2="497.77" stroke="#222" stroke-width="1.2" />
<text transform="translate(269.3,500.37) scale(1.12,1)" font-size="7.5" text-anchor="middle" fill="#777" font-weight="normal" font-family='"Liberation Mono", monospace' >G</text>
<line x1="275.2" y1="504.45" x2="278.5" y2="504.45" stroke="#222" stroke-width="1.2" />
<text transform="translate(269.3,507.05) scale(1.12,1)" font-size="7.5" text-anchor="middle" fill="#777" font-weight="normal" font-family='"Liberation Mono", monospace' >A</text>
<line x1="275.2" y1="511.13" x2="278.5" y2="511.13" stroke="#222" stroke-width="1.2" />
<text transform="translate(269.3,513.73) scale(1.12,1)" font-size="7.5" text-anchor="middle" fill="#777" font-weight="normal" font-family='"Liberation Mono", monospace' >C</text>
<line x1="275.2" y1="517.81" x2="278.5" y2="517.81" stroke="#222" stroke-width="1.2" />
<text transform="translate(269.3,520.41) scale(1.12,1)" font-size="7.5" text-anchor="middle" fill="#777" font-weight="normal" font-family='"Liberation Mono", monospace' >C</text>
<line x1="275.2" y1="524.49" x2="278.5" y2="524.49" stroke="#222" stroke-width="1.2" />
<text transform="translate(269.3,527.09) scale(1.12,1)" font-size="7.5" text-anchor="middle" fill="#777" font-weight="normal" font-family='"Liberation Mono", monospace' >A</text>
<line x1="275.2" y1="531.17" x2="278.5" y2="531.17" stroke="#222" stroke-width="1.2" />
<text transform="translate(269.3,533.77) scale(1.12,1)" font-size="7.5" text-anchor="middle" fill="#777" font-weight="normal" font-family='"Liberation Mono", monospace' >A</text>
<line x1="275.2" y1="537.84" x2="278.5" y2="537.84" stroke="#222" stroke-width="1.2" />
<text transform="translate(269.3,540.44) scale(1.12,1)" font-size="7.5" text-anchor="middle" fill="#777" font-weight="normal" font-family='"Liberation Mono", monospace' >T</text>
<line x1="275.2" y1="544.52" x2="278.5" y2="544.52" stroke="#222" stroke-width="1.2" />
<text transform="translate(269.3,547.12) scale(1.12,1)" font-size="7.5" text-anchor="middle" fill="#777" font-weight="normal" font-family='"Liberation Mono", monospace' >A</text>
<line x1="275.2" y1="551.2" x2="278.5" y2="551.2" stroke="#222" stroke-width="1.2" />
<text transform="translate(269.3,553.8) scale(1.12,1)" font-size="7.5" text-anchor="middle" fill="#777" font-weight="normal" font-family='"Liberation Mono", monospace' >G</text>
<line x1="275.2" y1="557.88" x2="278.5" y2="557.88" stroke="#222" stroke-width="1.2" />
<text transform="translate(269.3,560.48) scale(1.12,1)" font-size="7.5" text-anchor="middle" fill="#777" font-weight="normal" font-family='"Liberation Mono", monospace' >C</text>
<line x1="275.2" y1="564.56" x2="278.5" y2="564.56" stroke="#222" stroke-width="1.2" />
<text transform="translate(269.3,567.16) scale(1.12,1)" font-size="7.5" text-anchor="middle" fill="#777" font-weight="normal" font-family='"Liberation Mono", monospace' >C</text>
<line x1="275.2" y1="571.23" x2="278.5" y2="571.23" stroke="#222" stroke-width="1.2" />
<text transform="translate(269.3,573.83) scale(1.12,1)" font-size="7.5" text-anchor="middle" fill="#777" font-weight="normal" font-family='"Liberation Mono", monospace' >T</text>
<line x1="275.2" y1="577.91" x2="278.5" y2="577.91" stroke="#222" stroke-width="1.2" />
<text transform="translate(269.3,580.51) scale(1.12,1)" font-size="7.5" text-anchor="middle" fill="#777" font-weight="normal" font-family='"Liberation Mono", monospace' >T</text>
<line x1="275.2" y1="584.59" x2="278.5" y2="584.59" stroke="#222" stroke-width="1.2" />
<text transform="translate(269.3,587.19) scale(1.12,1)" font-size="7.5" text-anchor="middle" fill="#777" font-weight="normal" font-family='"Liberation Mono", monospace' >G</text>
<line x1="275.2" y1="591.27" x2="278.5" y2="591.27" stroke="#222" stroke-width="1.2" />
<text transform="translate(269.3,593.87) scale(1.12,1)" font-size="7.5" text-anchor="middle" fill="#777" font-weight="normal" font-family='"Liberation Mono", monospace' >A</text>
<line x1="275.2" y1="597.95" x2="278.5" y2="597.95" stroke="#222" stroke-width="1.2" />
<text transform="translate(269.3,600.55) scale(1.12,1)" font-size="7.5" text-anchor="middle" fill="#777" font-weight="normal" font-family='"Liberation Mono", monospace' >C</text>
<line x1="275.2" y1="604.63" x2="278.5" y2="604.63" stroke="#222" stroke-width="1.2" />
<text transform="translate(269.3,607.23) scale(1.12,1)" font-size="7.5" text-anchor="middle" fill="#777" font-weight="normal" font-family='"Liberation Mono", monospace' >A</text>
<line x1="275.2" y1="611.3" x2="278.5" y2="611.3" stroke="#222" stroke-width="1.2" />
<text transform="translate(269.3,613.9) scale(1.12,1)" font-size="7.5" text-anchor="middle" fill="#777" font-weight="normal" font-family='"Liberation Mono", monospace' >A</text>
<line x1="275.2" y1="617.98" x2="278.5" y2="617.98" stroke="#222" stroke-width="1.2" />
<text transform="translate(269.3,620.58) scale(1.12,1)" font-size="7.5" text-anchor="middle" fill="#777" font-weight="normal" font-family='"Liberation Mono", monospace' >G</text>
<line x1="275.2" y1="624.66" x2="278.5" y2="624.66" stroke="#222" stroke-width="1.2" />
<text transform="translate(269.3,627.26) scale(1.12,1)" font-size="7.5" text-anchor="middle" fill="#777" font-weight="normal" font-family='"Liberation Mono", monospace' >G</text>
<line x1="286.68" y1="628" x2="286.68" y2="630.3" stroke="#222" stroke-width="1.1" />
<line x1="303.02" y1="628" x2="303.02" y2="630.3" stroke="#222" stroke-width="1.1" />
<line x1="319.38" y1="628" x2="319.38" y2="630.3" stroke="#222" stroke-width="1.1" />
<line x1="335.73" y1="628" x2="335.73" y2="630.3" stroke="#222" stroke-width="1.1" />
<line x1="352.08" y1="628" x2="352.08" y2="630.3" stroke="#222" stroke-width="1.1" />
<line x1="368.43" y1="628" x2="368.43" y2="630.3" stroke="#222" stroke-width="1.1" />
<text transform="translate(289.28,635.3) rotate(-45)" font-size="8" text-anchor="end" fill="#111" font-family='"Liberation Sans", sans-serif'>Insertions</text>
<text transform="translate(305.62,635.3) rotate(-45)" font-size="8" text-anchor="end" fill="#111" font-family='"Liberation Sans", sans-serif'>Deletions</text>
<text transform="translate(321.98,635.3) rotate(-45)" font-size="8" text-anchor="end" fill="#111" font-family='"Liberation Sans", sans-serif'>Substitutions</text>
<text transform="translate(338.33,635.3) rotate(-45)" font-size="8" text-anchor="end" fill="#111" font-family='"Liberation Sans", sans-serif'>Insertions</text>
<text transform="translate(354.68,635.3) rotate(-45)" font-size="8" text-anchor="end" fill="#111" font-family='"Liberation Sans", sans-serif'>Deletions</text>
<text transform="translate(371.03,635.3) rotate(-45)" font-size="8" text-anchor="end" fill="#111" font-family='"Liberation Sans", sans-serif'>Substitutions</text>
<text x="302.7" y="469.3" font-size="8.2" text-anchor="middle" fill="#111" font-weight="normal" font-style="normal" font-family='"Liberation Sans", sans-serif' >Nontr</text>
<text x="357.5" y="459.4" font-size="8.2" text-anchor="middle" fill="#111" font-weight="normal" font-style="normal" font-family='"Liberation Sans", sans-serif' >HDAd-</text>
<text x="357.5" y="469.6" font-size="8.2" text-anchor="middle" fill="#111" font-weight="normal" font-style="normal" font-family='"Liberation Sans", sans-serif' >ABE-sgHBG-2</text>
<path d="M262,475.5 Q259.6,475.5 259.6,478 L259.6,538.8 Q259.6,540.8 258,540.8 Q259.6,540.8 259.6,542.8 L259.6,602.7 Q259.6,605.2 262,605.2" fill="none" stroke="#333" stroke-width="1.1"/>
<path d="M262,608 Q259.6,608 259.6,610.5 L259.6,615.3 Q259.6,617.3 258,617.3 Q259.6,617.3 259.6,619.3 L259.6,623.9 Q259.6,626.4 262,626.4" fill="none" stroke="#333" stroke-width="1.1"/>
<text transform="translate(252.4,540.9) rotate(-90) scale(0.84,1)" font-size="9.3" text-anchor="middle" fill="#111" font-weight="normal" font-family='"Liberation Sans", sans-serif' >Protospacer</text>
<text transform="translate(252.4,617.2) rotate(-90) scale(0.82,1)" font-size="9.4" text-anchor="middle" fill="#111" font-weight="normal" font-family='"Liberation Sans", sans-serif' >PAM</text>
<defs><linearGradient id="cbg" x1="0" y1="1" x2="0" y2="0"><stop offset="0" stop-color="#ffffff"/><stop offset="1" stop-color="#0000f4"/></linearGradient></defs>
<rect x="398" y="474" width="10.6" height="153.4" fill="url(#cbg)" stroke="#999" stroke-width="0.8" />
<text transform="translate(412.2,631.2) scale(0.85,1)" font-size="9.4" text-anchor="start" fill="#111" font-weight="normal" font-family='"Liberation Sans", sans-serif' >0</text>
<line x1="398" y1="590.8" x2="401.6" y2="590.8" stroke="#333" stroke-width="1" opacity="0.75"/>
<line x1="405" y1="590.8" x2="408.6" y2="590.8" stroke="#333" stroke-width="1" opacity="0.75"/>
<text transform="translate(412.2,594.1) scale(0.85,1)" font-size="9.4" text-anchor="start" fill="#111" font-weight="normal" font-family='"Liberation Sans", sans-serif' >10</text>
<line x1="398" y1="553.7" x2="401.6" y2="553.7" stroke="#333" stroke-width="1" opacity="0.75"/>
<line x1="405" y1="553.7" x2="408.6" y2="553.7" stroke="#333" stroke-width="1" opacity="0.75"/>
<text transform="translate(412.2,557) scale(0.85,1)" font-size="9.4" text-anchor="start" fill="#111" font-weight="normal" font-family='"Liberation Sans", sans-serif' >20</text>
<line x1="398" y1="516.6" x2="401.6" y2="516.6" stroke="#333" stroke-width="1" opacity="0.75"/>
<line x1="405" y1="516.6" x2="408.6" y2="516.6" stroke="#333" stroke-width="1" opacity="0.75"/>
<text transform="translate(412.2,519.9) scale(0.85,1)" font-size="9.4" text-anchor="start" fill="#111" font-weight="normal" font-family='"Liberation Sans", sans-serif' >30</text>
<line x1="398" y1="479.5" x2="401.6" y2="479.5" stroke="#333" stroke-width="1" opacity="0.75"/>
<line x1="405" y1="479.5" x2="408.6" y2="479.5" stroke="#333" stroke-width="1" opacity="0.75"/>
<text transform="translate(412.2,482.8) scale(0.85,1)" font-size="9.4" text-anchor="start" fill="#111" font-weight="normal" font-family='"Liberation Sans", sans-serif' >40</text>
<text transform="translate(407.6,643.6) scale(0.85,1)" font-size="9.4" text-anchor="middle" fill="#111" font-weight="normal" font-family='"Liberation Sans", sans-serif' >% reads</text>
</svg>
</body></html>
